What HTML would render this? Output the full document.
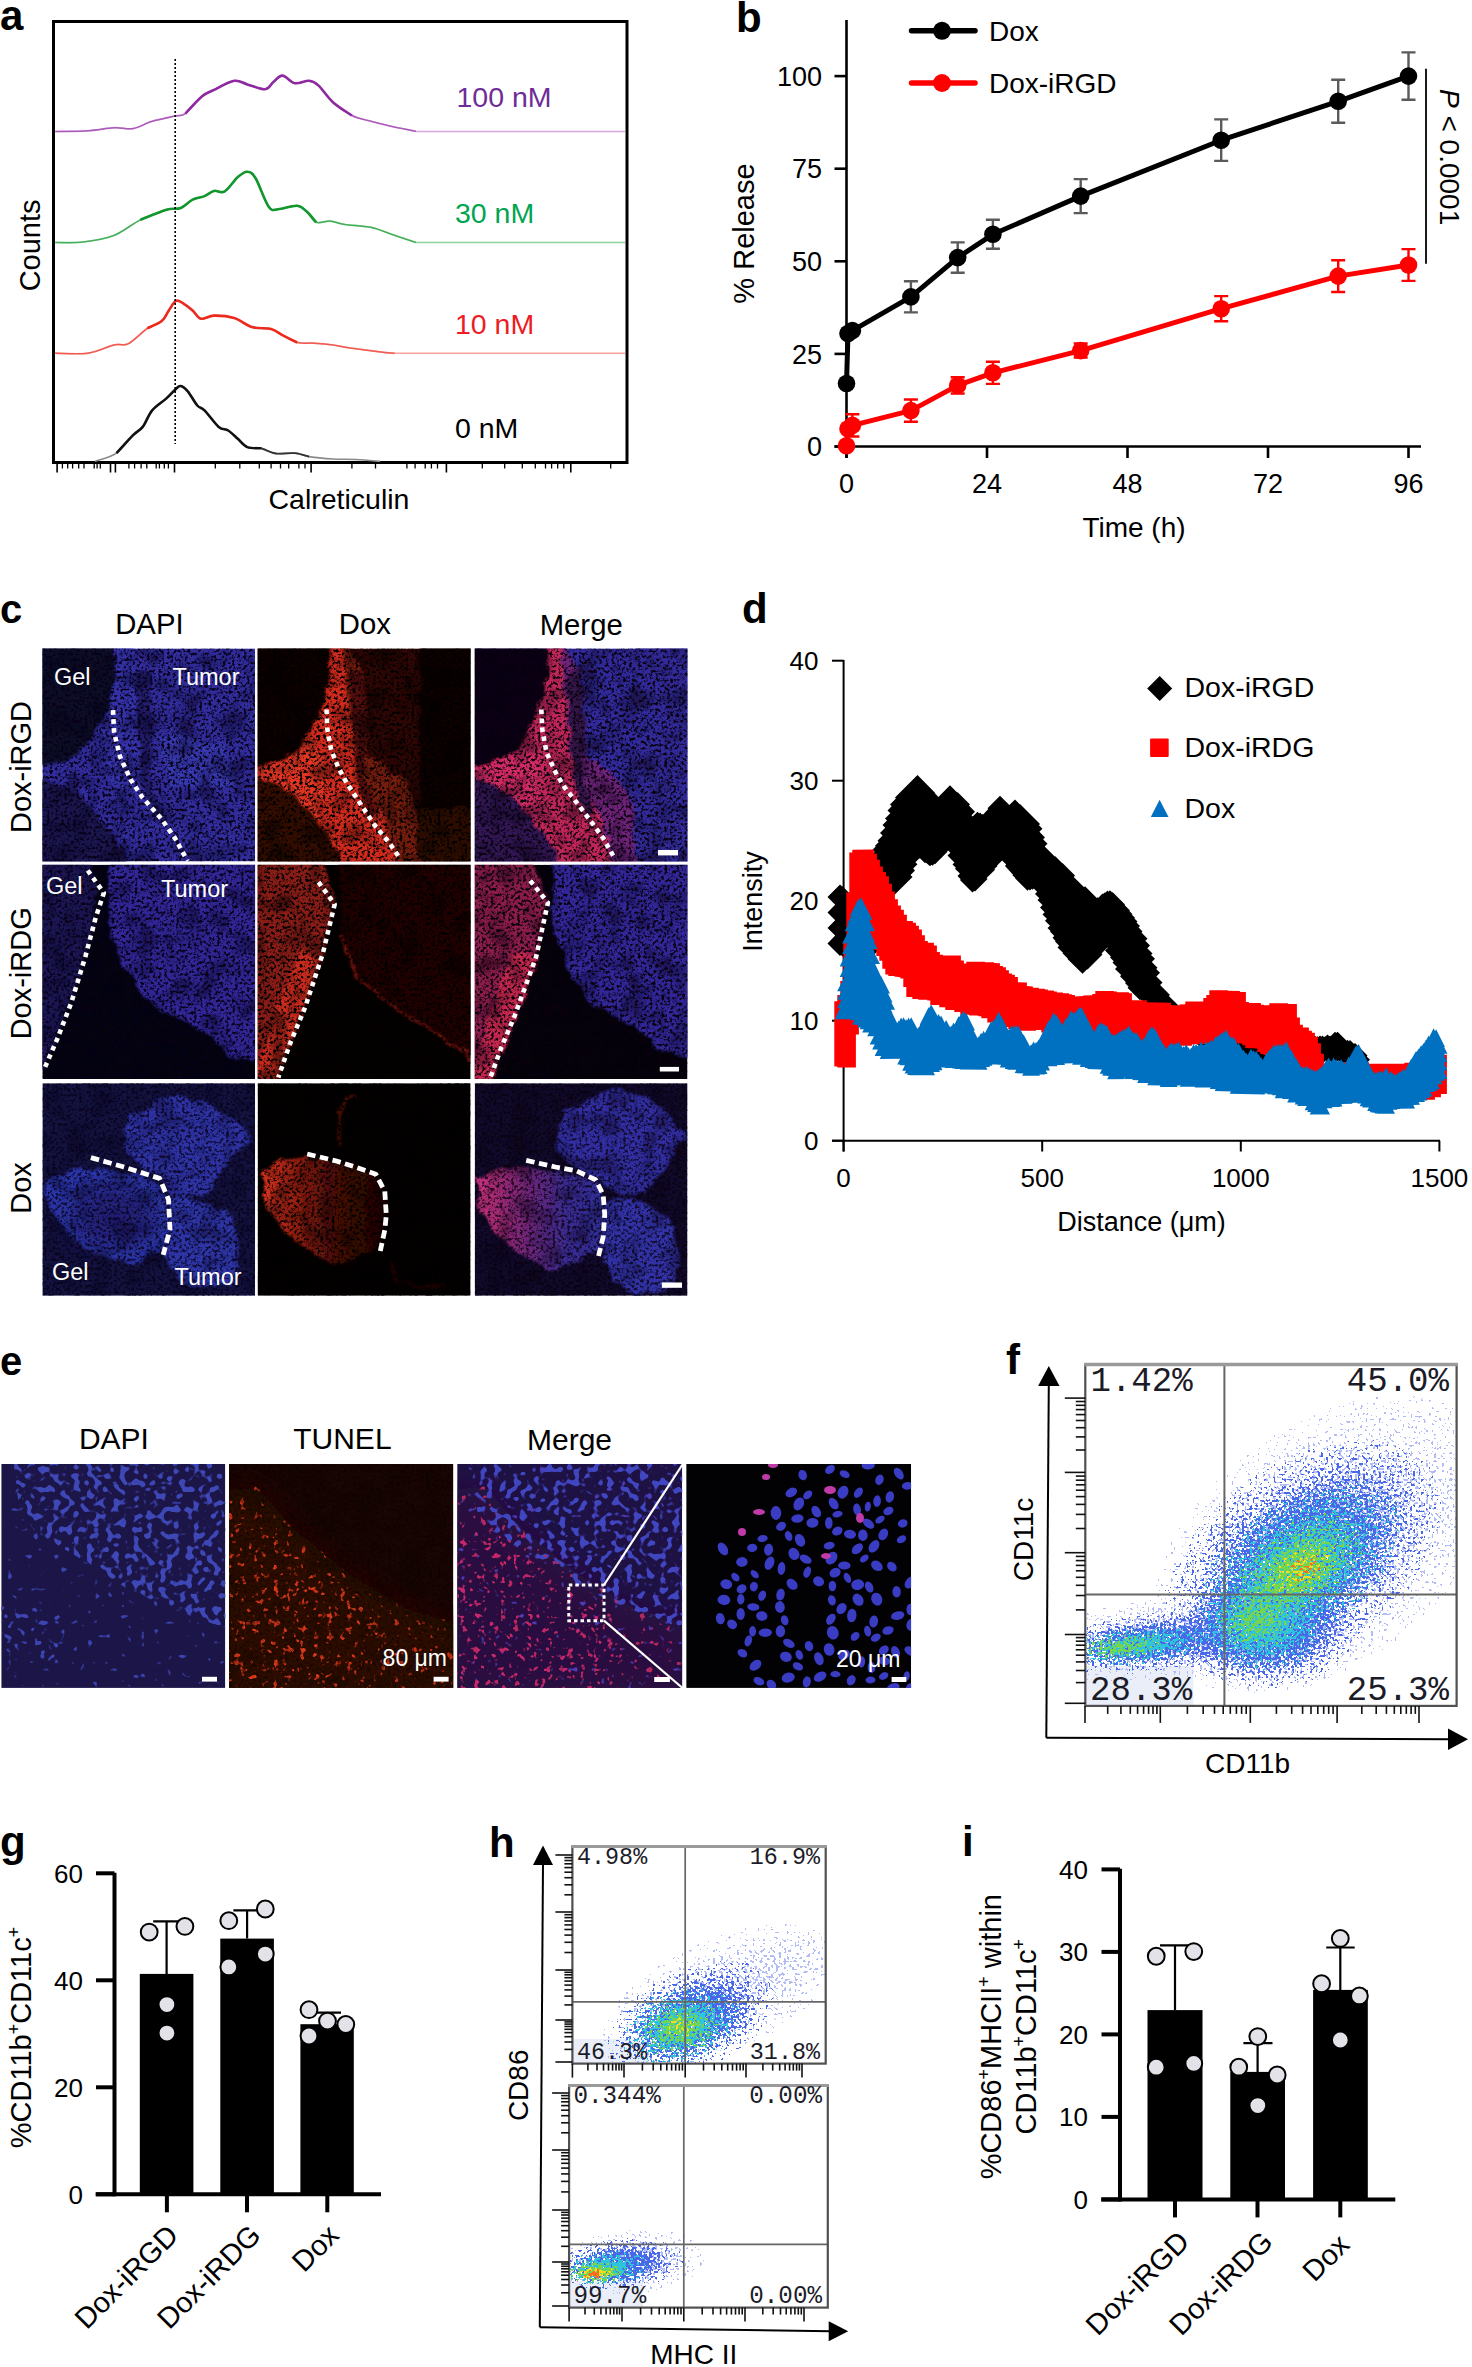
<!DOCTYPE html><html><head><meta charset="utf-8"><style>html,body{margin:0;padding:0;background:#fff;}svg{display:block;}text{font-family:"Liberation Sans",sans-serif;} text.mono{font-family:"Liberation Mono",monospace;}</style></head><body>
<svg width="1472" height="2367" viewBox="0 0 1472 2367">
<defs><radialGradient id="gJet"><stop offset="0" stop-color="#ff5a10"/><stop offset="0.10" stop-color="#ffc400"/><stop offset="0.22" stop-color="#8ad836"/><stop offset="0.38" stop-color="#28c8b8"/><stop offset="0.56" stop-color="#2a62ea"/><stop offset="0.78" stop-color="#5a78ee"/><stop offset="1" stop-color="#a4b0f4"/></radialGradient><radialGradient id="gCool"><stop offset="0" stop-color="#60d060"/><stop offset="0.25" stop-color="#30c8c0"/><stop offset="0.55" stop-color="#2a62ea"/><stop offset="0.8" stop-color="#5a78ee"/><stop offset="1" stop-color="#a4b0f4"/></radialGradient><radialGradient id="gBlue"><stop offset="0" stop-color="#3a64ea"/><stop offset="0.6" stop-color="#6a84f0"/><stop offset="1" stop-color="#a8b4f4"/></radialGradient><radialGradient id="dHi"><stop offset="0" stop-color="#fff" stop-opacity="1"/><stop offset="0.55" stop-color="#fff" stop-opacity="0.97"/><stop offset="0.8" stop-color="#fff" stop-opacity="0.6"/><stop offset="1" stop-color="#fff" stop-opacity="0"/></radialGradient><radialGradient id="dLo"><stop offset="0" stop-color="#fff" stop-opacity="0.7"/><stop offset="0.6" stop-color="#fff" stop-opacity="0.45"/><stop offset="1" stop-color="#fff" stop-opacity="0"/></radialGradient><filter id="spk" x="0" y="0" width="1472" height="2367" filterUnits="userSpaceOnUse"><feTurbulence type="fractalNoise" baseFrequency="0.42" numOctaves="1" seed="4" result="n"/><feColorMatrix in="n" type="matrix" values="0 0 0 0 1  0 0 0 0 1  0 0 0 0 1  1.6 0 0 0 -0.3" result="na"/><feComposite in="SourceGraphic" in2="na" operator="arithmetic" k1="1" k2="0" k3="0" k4="0" result="p"/><feComponentTransfer in="p"><feFuncA type="discrete" tableValues="0 0 1 1 1"/></feComponentTransfer></filter><radialGradient id="dG"><stop offset="0" stop-color="#fff" stop-opacity="1"/><stop offset="0.35" stop-color="#fff" stop-opacity="0.8"/><stop offset="0.7" stop-color="#fff" stop-opacity="0.35"/><stop offset="1" stop-color="#fff" stop-opacity="0.03"/></radialGradient><filter id="fs0" x="0" y="0" width="1472" height="2367" filterUnits="userSpaceOnUse"><feTurbulence type="fractalNoise" baseFrequency="0.38" numOctaves="1" seed="31" result="n"/><feColorMatrix in="n" type="matrix" values="0 0 0 0 1  0 0 0 0 1  0 0 0 0 1  1 0 0 0 0" result="na"/><feComposite in="SourceGraphic" in2="na" operator="arithmetic" k1="0" k2="0.4" k3="1" k4="-0.65" result="p"/><feComponentTransfer in="p" result="t1"><feFuncA type="discrete" tableValues="0 1 1 1 1 1 1 1 1 1 1 1 1 1 1 1 1 1 1 1"/></feComponentTransfer><feComposite in="t1" in2="SourceGraphic" operator="in" result="t2"/><feComponentTransfer in="t2"><feFuncA type="discrete" tableValues="0 1 1 1 1 1 1 1 1 1 1 1 1 1 1 1 1 1 1 1 1 1 1 1 1 1 1 1 1 1 1 1 1 1 1 1 1 1 1 1 1 1 1 1 1 1 1 1 1 1"/></feComponentTransfer></filter><filter id="fs1" x="0" y="0" width="1472" height="2367" filterUnits="userSpaceOnUse"><feTurbulence type="fractalNoise" baseFrequency="0.38" numOctaves="1" seed="38" result="n"/><feColorMatrix in="n" type="matrix" values="0 0 0 0 1  0 0 0 0 1  0 0 0 0 1  1 0 0 0 0" result="na"/><feComposite in="SourceGraphic" in2="na" operator="arithmetic" k1="0" k2="0.4" k3="1" k4="-0.65" result="p"/><feComponentTransfer in="p" result="t1"><feFuncA type="discrete" tableValues="0 1 1 1 1 1 1 1 1 1 1 1 1 1 1 1 1 1 1 1"/></feComponentTransfer><feComposite in="t1" in2="SourceGraphic" operator="in" result="t2"/><feComponentTransfer in="t2"><feFuncA type="discrete" tableValues="0 1 1 1 1 1 1 1 1 1 1 1 1 1 1 1 1 1 1 1 1 1 1 1 1 1 1 1 1 1 1 1 1 1 1 1 1 1 1 1 1 1 1 1 1 1 1 1 1 1"/></feComponentTransfer></filter><filter id="fs2" x="0" y="0" width="1472" height="2367" filterUnits="userSpaceOnUse"><feTurbulence type="fractalNoise" baseFrequency="0.38" numOctaves="1" seed="45" result="n"/><feColorMatrix in="n" type="matrix" values="0 0 0 0 1  0 0 0 0 1  0 0 0 0 1  1 0 0 0 0" result="na"/><feComposite in="SourceGraphic" in2="na" operator="arithmetic" k1="0" k2="0.4" k3="1" k4="-0.65" result="p"/><feComponentTransfer in="p" result="t1"><feFuncA type="discrete" tableValues="0 1 1 1 1 1 1 1 1 1 1 1 1 1 1 1 1 1 1 1"/></feComponentTransfer><feComposite in="t1" in2="SourceGraphic" operator="in" result="t2"/><feComponentTransfer in="t2"><feFuncA type="discrete" tableValues="0 1 1 1 1 1 1 1 1 1 1 1 1 1 1 1 1 1 1 1 1 1 1 1 1 1 1 1 1 1 1 1 1 1 1 1 1 1 1 1 1 1 1 1 1 1 1 1 1 1"/></feComponentTransfer></filter><filter id="fs3" x="0" y="0" width="1472" height="2367" filterUnits="userSpaceOnUse"><feTurbulence type="fractalNoise" baseFrequency="0.38" numOctaves="1" seed="52" result="n"/><feColorMatrix in="n" type="matrix" values="0 0 0 0 1  0 0 0 0 1  0 0 0 0 1  1 0 0 0 0" result="na"/><feComposite in="SourceGraphic" in2="na" operator="arithmetic" k1="0" k2="0.4" k3="1" k4="-0.65" result="p"/><feComponentTransfer in="p" result="t1"><feFuncA type="discrete" tableValues="0 1 1 1 1 1 1 1 1 1 1 1 1 1 1 1 1 1 1 1"/></feComponentTransfer><feComposite in="t1" in2="SourceGraphic" operator="in" result="t2"/><feComponentTransfer in="t2"><feFuncA type="discrete" tableValues="0 1 1 1 1 1 1 1 1 1 1 1 1 1 1 1 1 1 1 1 1 1 1 1 1 1 1 1 1 1 1 1 1 1 1 1 1 1 1 1 1 1 1 1 1 1 1 1 1 1"/></feComponentTransfer></filter><filter id="fs4" x="0" y="0" width="1472" height="2367" filterUnits="userSpaceOnUse"><feTurbulence type="fractalNoise" baseFrequency="0.38" numOctaves="1" seed="59" result="n"/><feColorMatrix in="n" type="matrix" values="0 0 0 0 1  0 0 0 0 1  0 0 0 0 1  1 0 0 0 0" result="na"/><feComposite in="SourceGraphic" in2="na" operator="arithmetic" k1="0" k2="0.4" k3="1" k4="-0.65" result="p"/><feComponentTransfer in="p" result="t1"><feFuncA type="discrete" tableValues="0 1 1 1 1 1 1 1 1 1 1 1 1 1 1 1 1 1 1 1"/></feComponentTransfer><feComposite in="t1" in2="SourceGraphic" operator="in" result="t2"/><feComponentTransfer in="t2"><feFuncA type="discrete" tableValues="0 1 1 1 1 1 1 1 1 1 1 1 1 1 1 1 1 1 1 1 1 1 1 1 1 1 1 1 1 1 1 1 1 1 1 1 1 1 1 1 1 1 1 1 1 1 1 1 1 1"/></feComponentTransfer></filter><filter id="fs5" x="0" y="0" width="1472" height="2367" filterUnits="userSpaceOnUse"><feTurbulence type="fractalNoise" baseFrequency="0.38" numOctaves="1" seed="66" result="n"/><feColorMatrix in="n" type="matrix" values="0 0 0 0 1  0 0 0 0 1  0 0 0 0 1  1 0 0 0 0" result="na"/><feComposite in="SourceGraphic" in2="na" operator="arithmetic" k1="0" k2="0.4" k3="1" k4="-0.65" result="p"/><feComponentTransfer in="p" result="t1"><feFuncA type="discrete" tableValues="0 1 1 1 1 1 1 1 1 1 1 1 1 1 1 1 1 1 1 1"/></feComponentTransfer><feComposite in="t1" in2="SourceGraphic" operator="in" result="t2"/><feComponentTransfer in="t2"><feFuncA type="discrete" tableValues="0 1 1 1 1 1 1 1 1 1 1 1 1 1 1 1 1 1 1 1 1 1 1 1 1 1 1 1 1 1 1 1 1 1 1 1 1 1 1 1 1 1 1 1 1 1 1 1 1 1"/></feComponentTransfer></filter><clipPath id="cf"><rect x="1085.3" y="1364.5" width="371.29999999999995" height="341.4000000000001"/></clipPath><mask id="pfm0" maskUnits="userSpaceOnUse" x="1085.3" y="1364.5" width="371.29999999999995" height="341.4000000000001"><g filter="url(#fs0)"><ellipse cx="1325" cy="1545" rx="195" ry="120" transform="rotate(-36 1325 1545)" fill="url(#dG)" fill-opacity="0.6"/><ellipse cx="1150" cy="1640" rx="120" ry="40" transform="rotate(-6 1150 1640)" fill="url(#dG)" fill-opacity="0.55"/><ellipse cx="1265" cy="1632" rx="95" ry="62" transform="rotate(0 1265 1632)" fill="url(#dG)" fill-opacity="0.55"/></g></mask><mask id="pfm1" maskUnits="userSpaceOnUse" x="1085.3" y="1364.5" width="371.29999999999995" height="341.4000000000001"><g filter="url(#fs1)"><ellipse cx="1302" cy="1560" rx="158" ry="96" transform="rotate(-36 1302 1560)" fill="url(#dG)" fill-opacity="0.95"/><ellipse cx="1150" cy="1643" rx="105" ry="30" transform="rotate(-6 1150 1643)" fill="url(#dG)" fill-opacity="0.9"/><ellipse cx="1268" cy="1630" rx="88" ry="58" transform="rotate(0 1268 1630)" fill="url(#dG)" fill-opacity="0.9"/></g></mask><mask id="pfm2" maskUnits="userSpaceOnUse" x="1085.3" y="1364.5" width="371.29999999999995" height="341.4000000000001"><g filter="url(#fs2)"><ellipse cx="1298" cy="1568" rx="118" ry="68" transform="rotate(-36 1298 1568)" fill="url(#dG)" fill-opacity="0.85"/><ellipse cx="1140" cy="1645" rx="80" ry="20" transform="rotate(-6 1140 1645)" fill="url(#dG)" fill-opacity="0.8"/><ellipse cx="1262" cy="1628" rx="66" ry="44" transform="rotate(0 1262 1628)" fill="url(#dG)" fill-opacity="0.8"/></g></mask><mask id="pfm3" maskUnits="userSpaceOnUse" x="1085.3" y="1364.5" width="371.29999999999995" height="341.4000000000001"><g filter="url(#fs3)"><ellipse cx="1298" cy="1570" rx="78" ry="44" transform="rotate(-36 1298 1570)" fill="url(#dG)" fill-opacity="0.75"/><ellipse cx="1122" cy="1647" rx="48" ry="13" transform="rotate(-6 1122 1647)" fill="url(#dG)" fill-opacity="0.65"/><ellipse cx="1255" cy="1622" rx="40" ry="28" transform="rotate(0 1255 1622)" fill="url(#dG)" fill-opacity="0.6"/></g></mask><mask id="pfm4" maskUnits="userSpaceOnUse" x="1085.3" y="1364.5" width="371.29999999999995" height="341.4000000000001"><g filter="url(#fs4)"><ellipse cx="1302" cy="1570" rx="40" ry="24" transform="rotate(-36 1302 1570)" fill="url(#dG)" fill-opacity="0.42"/></g></mask><mask id="pfm5" maskUnits="userSpaceOnUse" x="1085.3" y="1364.5" width="371.29999999999995" height="341.4000000000001"><g filter="url(#fs5)"><ellipse cx="1305" cy="1568" rx="22" ry="13" transform="rotate(-36 1305 1568)" fill="url(#dG)" fill-opacity="0.3"/></g></mask><clipPath id="ch1"><rect x="572.4" y="1846.6" width="253.30000000000007" height="217.0"/></clipPath><mask id="ph1m0" maskUnits="userSpaceOnUse" x="572.4" y="1846.6" width="253.30000000000007" height="217.0"><g filter="url(#fs0)"><ellipse cx="718" cy="1998" rx="130" ry="58" transform="rotate(-25 718 1998)" fill="url(#dG)" fill-opacity="0.42"/><ellipse cx="785" cy="1965" rx="55" ry="35" transform="rotate(-25 785 1965)" fill="url(#dG)" fill-opacity="0.15"/></g></mask><mask id="ph1m1" maskUnits="userSpaceOnUse" x="572.4" y="1846.6" width="253.30000000000007" height="217.0"><g filter="url(#fs1)"><ellipse cx="692" cy="2020" rx="90" ry="50" transform="rotate(-25 692 2020)" fill="url(#dG)" fill-opacity="0.95"/></g></mask><mask id="ph1m2" maskUnits="userSpaceOnUse" x="572.4" y="1846.6" width="253.30000000000007" height="217.0"><g filter="url(#fs2)"><ellipse cx="682" cy="2026" rx="64" ry="38" transform="rotate(-15 682 2026)" fill="url(#dG)" fill-opacity="0.85"/></g></mask><mask id="ph1m3" maskUnits="userSpaceOnUse" x="572.4" y="1846.6" width="253.30000000000007" height="217.0"><g filter="url(#fs3)"><ellipse cx="680" cy="2028" rx="42" ry="28" transform="rotate(-10 680 2028)" fill="url(#dG)" fill-opacity="0.7"/></g></mask><mask id="ph1m4" maskUnits="userSpaceOnUse" x="572.4" y="1846.6" width="253.30000000000007" height="217.0"><g filter="url(#fs4)"><ellipse cx="680" cy="2026" rx="18" ry="14" transform="rotate(0 680 2026)" fill="url(#dG)" fill-opacity="0.35"/></g></mask><clipPath id="ch2"><rect x="569.1" y="2085.5" width="258.69999999999993" height="222.0999999999999"/></clipPath><mask id="ph2m0" maskUnits="userSpaceOnUse" x="569.1" y="2085.5" width="258.69999999999993" height="222.0999999999999"><g filter="url(#fs0)"><ellipse cx="632" cy="2262" rx="78" ry="32" transform="rotate(-5 632 2262)" fill="url(#dG)" fill-opacity="0.55"/></g></mask><mask id="ph2m1" maskUnits="userSpaceOnUse" x="569.1" y="2085.5" width="258.69999999999993" height="222.0999999999999"><g filter="url(#fs1)"><ellipse cx="620" cy="2264" rx="64" ry="26" transform="rotate(-5 620 2264)" fill="url(#dG)" fill-opacity="1.0"/></g></mask><mask id="ph2m2" maskUnits="userSpaceOnUse" x="569.1" y="2085.5" width="258.69999999999993" height="222.0999999999999"><g filter="url(#fs2)"><ellipse cx="605" cy="2268" rx="46" ry="18" transform="rotate(-5 605 2268)" fill="url(#dG)" fill-opacity="0.95"/></g></mask><mask id="ph2m3" maskUnits="userSpaceOnUse" x="569.1" y="2085.5" width="258.69999999999993" height="222.0999999999999"><g filter="url(#fs3)"><ellipse cx="598" cy="2272" rx="32" ry="12" transform="rotate(-3 598 2272)" fill="url(#dG)" fill-opacity="0.85"/></g></mask><mask id="ph2m4" maskUnits="userSpaceOnUse" x="569.1" y="2085.5" width="258.69999999999993" height="222.0999999999999"><g filter="url(#fs4)"><ellipse cx="596" cy="2273" rx="20" ry="8" transform="rotate(0 596 2273)" fill="url(#dG)" fill-opacity="0.75"/></g></mask><mask id="ph2m5" maskUnits="userSpaceOnUse" x="569.1" y="2085.5" width="258.69999999999993" height="222.0999999999999"><g filter="url(#fs5)"><ellipse cx="594" cy="2274" rx="12" ry="6" transform="rotate(0 594 2274)" fill="url(#dG)" fill-opacity="0.7"/></g></mask><filter id="mblur" x="-5%" y="-5%" width="110%" height="110%"><feTurbulence type="fractalNoise" baseFrequency="0.07" numOctaves="3" seed="2" result="t"/><feDisplacementMap in="SourceGraphic" in2="t" scale="10" xChannelSelector="R" yChannelSelector="G" result="d"/><feGaussianBlur in="d" stdDeviation="1.1"/></filter><filter id="mblur3" x="-5%" y="-5%" width="110%" height="110%"><feGaussianBlur stdDeviation="4"/></filter><filter id="mblur12" x="-20%" y="-20%" width="140%" height="140%"><feGaussianBlur stdDeviation="14"/></filter><filter id="tex" x="0" y="0" width="1472" height="2367" filterUnits="userSpaceOnUse"><feTurbulence type="fractalNoise" baseFrequency="0.34" numOctaves="3" seed="11" result="n"/><feColorMatrix in="n" type="matrix" values="0 0 0 0 0  0 0 0 0 0  0 0 0 0 0  -4.5 0 0 0 2.35" result="m"/><feGaussianBlur in="m" stdDeviation="0.55" result="mb"/><feComposite in="SourceGraphic" in2="mb" operator="in"/></filter><filter id="texC" x="0" y="0" width="1472" height="2367" filterUnits="userSpaceOnUse"><feTurbulence type="fractalNoise" baseFrequency="0.045" numOctaves="3" seed="5" result="n"/><feColorMatrix in="n" type="matrix" values="0 0 0 0 0  0 0 0 0 0  0 0 0 0 0  -3.2 0 0 0 1.75" result="m"/><feComposite in="SourceGraphic" in2="m" operator="in"/></filter><filter id="texL" x="0" y="0" width="1472" height="2367" filterUnits="userSpaceOnUse"><feTurbulence type="fractalNoise" baseFrequency="0.3" numOctaves="2" seed="23"/><feColorMatrix type="matrix" values="0 0 0 0 1  0 0 0 0 1  0 0 0 0 1  5 0 0 0 -2.9"/></filter><filter id="nuc0" x="0" y="0" width="1472" height="2367" filterUnits="userSpaceOnUse"><feTurbulence type="fractalNoise" baseFrequency="0.15" numOctaves="1" seed="3" result="n"/><feColorMatrix in="n" type="matrix" values="0 0 0 0 1  0 0 0 0 1  0 0 0 0 1  14 0 0 0 -7.55" result="m"/><feGaussianBlur in="m" stdDeviation="0.7" result="mb"/><feComposite in="SourceGraphic" in2="mb" operator="in"/></filter><filter id="nuc1" x="0" y="0" width="1472" height="2367" filterUnits="userSpaceOnUse"><feTurbulence type="fractalNoise" baseFrequency="0.15" numOctaves="1" seed="5" result="n"/><feColorMatrix in="n" type="matrix" values="0 0 0 0 1  0 0 0 0 1  0 0 0 0 1  14 0 0 0 -8.5" result="m"/><feGaussianBlur in="m" stdDeviation="0.7" result="mb"/><feComposite in="SourceGraphic" in2="mb" operator="in"/></filter><filter id="nuc2" x="0" y="0" width="1472" height="2367" filterUnits="userSpaceOnUse"><feTurbulence type="fractalNoise" baseFrequency="0.15" numOctaves="1" seed="8" result="n"/><feColorMatrix in="n" type="matrix" values="0 0 0 0 1  0 0 0 0 1  0 0 0 0 1  14 0 0 0 -9.5" result="m"/><feGaussianBlur in="m" stdDeviation="0.7" result="mb"/><feComposite in="SourceGraphic" in2="mb" operator="in"/></filter><filter id="nuc3" x="0" y="0" width="1472" height="2367" filterUnits="userSpaceOnUse"><feTurbulence type="fractalNoise" baseFrequency="0.15" numOctaves="2" seed="13" result="n"/><feColorMatrix in="n" type="matrix" values="0 0 0 0 1  0 0 0 0 1  0 0 0 0 1  12 0 0 0 -7.75" result="m"/><feGaussianBlur in="m" stdDeviation="0.7" result="mb"/><feComposite in="SourceGraphic" in2="mb" operator="in"/></filter><filter id="nuc4" x="0" y="0" width="1472" height="2367" filterUnits="userSpaceOnUse"><feTurbulence type="fractalNoise" baseFrequency="0.15" numOctaves="2" seed="17" result="n"/><feColorMatrix in="n" type="matrix" values="0 0 0 0 1  0 0 0 0 1  0 0 0 0 1  12 0 0 0 -8.1" result="m"/><feGaussianBlur in="m" stdDeviation="0.7" result="mb"/><feComposite in="SourceGraphic" in2="mb" operator="in"/></filter><linearGradient id="gL3x" x1="0" y1="0" x2="1" y2="0"><stop offset="0" stop-color="#e0361f"/><stop offset="0.14" stop-color="#b42716"/><stop offset="0.35" stop-color="#80190c"/><stop offset="0.6" stop-color="#4a0c06"/><stop offset="1" stop-color="#1c0302"/></linearGradient><linearGradient id="gL3m" x1="0" y1="0" x2="1" y2="0"><stop offset="0" stop-color="#d23484"/><stop offset="0.15" stop-color="#a42a72"/><stop offset="0.4" stop-color="#6c2476"/><stop offset="0.7" stop-color="#3a2a8e"/><stop offset="1" stop-color="#2e2e98"/></linearGradient></defs>
<text x="0.0" y="30.0" font-size="42" text-anchor="start" fill="#000" font-weight="bold" >a</text>
<rect x="53.5" y="21.5" width="573.5" height="441" fill="none" stroke="#000" stroke-width="3"/>
<line x1="416" y1="131.4" x2="625" y2="131.4" stroke="#d8a4e2" stroke-width="1.5"/>
<path d="M55.2,131.5 C60.7,131.4 78.2,131.4 88.0,130.8 C97.8,130.2 106.6,128.1 114.1,127.7 C121.6,127.3 126.8,129.7 133.1,128.6 C139.4,127.5 145.2,123.4 152.2,121.3 C159.2,119.2 169.7,117.3 175.2,116.0 C180.7,114.7 180.9,116.9 185.4,113.6 C189.9,110.3 197.3,100.2 202.1,96.3 C206.9,92.3 208.7,92.5 214.0,89.9 C219.3,87.3 228.6,81.7 234.2,80.8 C239.8,79.9 242.2,83.0 247.3,84.4 C252.5,85.8 260.8,89.6 265.1,89.2 C269.5,88.8 270.5,84.3 273.4,82.0 C276.3,79.7 278.9,75.4 282.5,75.6 C286.1,75.8 290.4,82.3 294.8,83.2 C299.2,84.1 305.1,80.4 309.1,80.8 C313.1,81.2 314.6,82.0 318.6,85.6 C322.6,89.2 327.3,97.2 332.9,102.2 C338.4,107.2 345.6,112.3 351.9,115.5 C358.2,118.7 364.6,119.5 370.9,121.3 C377.2,123.0 382.4,124.3 389.9,126.0 C397.4,127.7 411.6,130.4 416.0,131.3" fill="none" stroke="#d8a4e2" stroke-width="1.7"/>
<path d="M55.2,131.5 C60.7,131.4 78.2,131.4 88.0,130.8 C97.8,130.2 106.6,128.1 114.1,127.7 C121.6,127.3 126.8,129.7 133.1,128.6 C139.4,127.5 145.2,123.4 152.2,121.3 C159.2,119.2 169.7,117.3 175.2,116.0 C180.7,114.7 180.9,116.9 185.4,113.6 C189.9,110.3 197.3,100.2 202.1,96.3 C206.9,92.3 208.7,92.5 214.0,89.9 C219.3,87.3 228.6,81.7 234.2,80.8 C239.8,79.9 242.2,83.0 247.3,84.4 C252.5,85.8 260.8,89.6 265.1,89.2 C269.5,88.8 270.5,84.3 273.4,82.0 C276.3,79.7 278.9,75.4 282.5,75.6 C286.1,75.8 290.4,82.3 294.8,83.2 C299.2,84.1 305.1,80.4 309.1,80.8 C313.1,81.2 314.6,82.0 318.6,85.6 C322.6,89.2 327.3,97.2 332.9,102.2 C338.4,107.2 345.6,112.3 351.9,115.5 C358.2,118.7 364.6,119.5 370.9,121.3 C377.2,123.0 382.4,124.3 389.9,126.0 C397.4,127.7 411.6,130.4 416.0,131.3" fill="none" stroke="#8e2aa0" stroke-width="1.5" stroke-opacity="0.6"/>
<path d="M185.4,113.6 C188.2,110.7 197.3,100.2 202.1,96.3 C206.9,92.3 208.7,92.5 214.0,89.9 C219.3,87.3 228.6,81.7 234.2,80.8 C239.8,79.9 242.2,83.0 247.3,84.4 C252.5,85.8 260.8,89.6 265.1,89.2 C269.5,88.8 270.5,84.3 273.4,82.0 C276.3,79.7 278.9,75.4 282.5,75.6 C286.1,75.8 290.4,82.3 294.8,83.2 C299.2,84.1 305.1,80.4 309.1,80.8 C313.1,81.2 314.6,82.0 318.6,85.6 C322.6,89.2 327.3,97.2 332.9,102.2 C338.4,107.2 348.7,113.3 351.9,115.5" fill="none" stroke="#8e2aa0" stroke-width="2.6"/>
<line x1="416" y1="242.5" x2="625" y2="242.5" stroke="#8fd49c" stroke-width="1.5"/>
<path d="M55.2,242.5 C59.9,242.4 73.4,243.2 83.2,242.0 C93.0,240.8 104.6,239.1 114.1,235.4 C123.6,231.7 131.6,224.2 140.3,219.9 C149.0,215.6 159.7,211.7 166.4,209.7 C173.1,207.7 176.3,209.7 180.7,208.0 C185.1,206.3 188.6,201.7 192.6,199.7 C196.6,197.7 200.9,197.6 204.5,196.1 C208.1,194.6 210.6,191.7 214.0,190.9 C217.4,190.1 220.7,193.7 224.7,191.4 C228.7,189.1 234.0,180.4 237.8,177.1 C241.6,173.8 244.3,171.5 247.3,171.7 C250.3,171.9 252.0,172.5 255.6,178.3 C259.2,184.2 264.9,201.7 268.7,206.8 C272.5,212.0 273.4,209.4 278.2,209.2 C282.9,209.0 292.4,205.3 297.2,205.7 C301.9,206.1 303.5,208.8 306.7,211.6 C309.9,214.4 312.3,220.7 316.2,222.3 C320.1,223.9 325.2,220.7 330.0,221.1 C334.8,221.5 338.2,223.5 345.0,224.5 C351.8,225.5 362.6,225.5 370.9,227.3 C379.2,229.1 387.2,232.9 394.7,235.4 C402.2,237.9 412.4,241.3 416.0,242.5" fill="none" stroke="#8fd49c" stroke-width="1.7"/>
<path d="M55.2,242.5 C59.9,242.4 73.4,243.2 83.2,242.0 C93.0,240.8 104.6,239.1 114.1,235.4 C123.6,231.7 131.6,224.2 140.3,219.9 C149.0,215.6 159.7,211.7 166.4,209.7 C173.1,207.7 176.3,209.7 180.7,208.0 C185.1,206.3 188.6,201.7 192.6,199.7 C196.6,197.7 200.9,197.6 204.5,196.1 C208.1,194.6 210.6,191.7 214.0,190.9 C217.4,190.1 220.7,193.7 224.7,191.4 C228.7,189.1 234.0,180.4 237.8,177.1 C241.6,173.8 244.3,171.5 247.3,171.7 C250.3,171.9 252.0,172.5 255.6,178.3 C259.2,184.2 264.9,201.7 268.7,206.8 C272.5,212.0 273.4,209.4 278.2,209.2 C282.9,209.0 292.4,205.3 297.2,205.7 C301.9,206.1 303.5,208.8 306.7,211.6 C309.9,214.4 312.3,220.7 316.2,222.3 C320.1,223.9 325.2,220.7 330.0,221.1 C334.8,221.5 338.2,223.5 345.0,224.5 C351.8,225.5 362.6,225.5 370.9,227.3 C379.2,229.1 387.2,232.9 394.7,235.4 C402.2,237.9 412.4,241.3 416.0,242.5" fill="none" stroke="#12962e" stroke-width="1.5" stroke-opacity="0.6"/>
<path d="M140.3,219.9 C144.7,218.2 159.7,211.7 166.4,209.7 C173.1,207.7 176.3,209.7 180.7,208.0 C185.1,206.3 188.6,201.7 192.6,199.7 C196.6,197.7 200.9,197.6 204.5,196.1 C208.1,194.6 210.6,191.7 214.0,190.9 C217.4,190.1 220.7,193.7 224.7,191.4 C228.7,189.1 234.0,180.4 237.8,177.1 C241.6,173.8 244.3,171.5 247.3,171.7 C250.3,171.9 252.0,172.5 255.6,178.3 C259.2,184.2 264.9,201.7 268.7,206.8 C272.5,212.0 273.4,209.4 278.2,209.2 C282.9,209.0 292.4,205.3 297.2,205.7 C301.9,206.1 303.5,208.8 306.7,211.6 C309.9,214.4 314.6,220.5 316.2,222.3" fill="none" stroke="#12962e" stroke-width="2.6"/>
<line x1="394.7" y1="353.2" x2="625" y2="353.2" stroke="#f6a49c" stroke-width="1.5"/>
<path d="M55.2,353.2 C60.7,353.2 78.2,354.6 88.0,353.2 C97.8,351.8 107.4,346.5 114.1,344.9 C120.8,343.3 122.9,346.5 128.4,343.7 C134.0,340.9 141.9,332.1 147.4,328.3 C152.9,324.5 158.1,324.1 161.7,321.1 C165.3,318.1 166.4,313.8 168.8,310.4 C171.2,307.0 173.5,302.1 175.9,300.9 C178.3,299.7 180.3,301.7 183.1,303.3 C185.9,304.9 189.6,307.8 192.6,310.4 C195.6,313.0 197.3,317.8 200.9,318.7 C204.5,319.6 208.4,315.7 214.0,315.6 C219.6,315.5 227.9,316.1 234.2,318.0 C240.5,319.9 245.9,325.3 252.0,327.1 C258.1,328.9 265.9,327.6 271.0,329.0 C276.1,330.4 278.5,333.1 282.9,335.4 C287.3,337.6 292.0,341.2 297.2,342.5 C302.4,343.8 307.9,342.8 313.8,343.2 C319.8,343.6 326.9,344.2 332.9,345.0 C338.9,345.8 342.1,346.9 350.0,348.0 C357.9,349.1 372.9,351.0 380.4,351.9 C387.8,352.8 392.3,353.1 394.7,353.3" fill="none" stroke="#f6a49c" stroke-width="1.7"/>
<path d="M55.2,353.2 C60.7,353.2 78.2,354.6 88.0,353.2 C97.8,351.8 107.4,346.5 114.1,344.9 C120.8,343.3 122.9,346.5 128.4,343.7 C134.0,340.9 141.9,332.1 147.4,328.3 C152.9,324.5 158.1,324.1 161.7,321.1 C165.3,318.1 166.4,313.8 168.8,310.4 C171.2,307.0 173.5,302.1 175.9,300.9 C178.3,299.7 180.3,301.7 183.1,303.3 C185.9,304.9 189.6,307.8 192.6,310.4 C195.6,313.0 197.3,317.8 200.9,318.7 C204.5,319.6 208.4,315.7 214.0,315.6 C219.6,315.5 227.9,316.1 234.2,318.0 C240.5,319.9 245.9,325.3 252.0,327.1 C258.1,328.9 265.9,327.6 271.0,329.0 C276.1,330.4 278.5,333.1 282.9,335.4 C287.3,337.6 292.0,341.2 297.2,342.5 C302.4,343.8 307.9,342.8 313.8,343.2 C319.8,343.6 326.9,344.2 332.9,345.0 C338.9,345.8 342.1,346.9 350.0,348.0 C357.9,349.1 372.9,351.0 380.4,351.9 C387.8,352.8 392.3,353.1 394.7,353.3" fill="none" stroke="#ec2a1e" stroke-width="1.5" stroke-opacity="0.6"/>
<path d="M147.4,328.3 C149.8,327.1 158.1,324.1 161.7,321.1 C165.3,318.1 166.4,313.8 168.8,310.4 C171.2,307.0 173.5,302.1 175.9,300.9 C178.3,299.7 180.3,301.7 183.1,303.3 C185.9,304.9 189.6,307.8 192.6,310.4 C195.6,313.0 197.3,317.8 200.9,318.7 C204.5,319.6 208.4,315.7 214.0,315.6 C219.6,315.5 227.9,316.1 234.2,318.0 C240.5,319.9 245.9,325.3 252.0,327.1 C258.1,328.9 265.9,327.6 271.0,329.0 C276.1,330.4 278.5,333.1 282.9,335.4 C287.3,337.6 294.8,341.3 297.2,342.5" fill="none" stroke="#ec2a1e" stroke-width="2.6"/>
<path d="M95.1,461.4 C98.7,460.0 110.2,457.5 116.5,453.1 C122.8,448.7 128.7,439.6 133.1,435.2 C137.5,430.8 139.5,431.0 142.7,426.9 C145.9,422.8 148.2,415.1 152.2,410.3 C156.1,405.6 162.4,402.0 166.4,398.4 C170.4,394.8 173.5,391.0 175.9,388.9 C178.3,386.8 178.7,385.6 180.7,386.0 C182.7,386.4 185.0,388.1 187.8,391.3 C190.6,394.6 194.5,402.3 197.3,405.5 C200.1,408.7 200.9,406.7 204.5,410.3 C208.1,413.9 214.8,423.5 218.7,426.9 C222.6,430.3 225.0,428.5 228.2,430.5 C231.4,432.5 234.6,436.0 237.8,438.8 C241.0,441.6 243.4,445.5 247.3,447.1 C251.2,448.7 256.8,447.2 261.5,448.3 C266.2,449.4 270.2,452.7 275.8,453.5 C281.4,454.3 289.2,452.6 294.8,453.1 C300.4,453.6 302.8,455.6 309.1,456.6 C315.5,457.6 325.0,458.5 332.9,459.0 C340.8,459.5 348.8,459.1 356.6,459.5 C364.5,459.9 376.1,461.0 380.0,461.3" fill="none" stroke="#8a8a8a" stroke-width="1.6"/>
<path d="M116.5,453.1 C119.3,450.1 128.7,439.6 133.1,435.2 C137.5,430.8 139.5,431.0 142.7,426.9 C145.9,422.8 148.2,415.1 152.2,410.3 C156.1,405.6 162.4,402.0 166.4,398.4 C170.4,394.8 173.5,391.0 175.9,388.9 C178.3,386.8 178.7,385.6 180.7,386.0 C182.7,386.4 185.0,388.1 187.8,391.3 C190.6,394.6 194.5,402.3 197.3,405.5 C200.1,408.7 200.9,406.7 204.5,410.3 C208.1,413.9 214.8,423.5 218.7,426.9 C222.6,430.3 225.0,428.5 228.2,430.5 C231.4,432.5 234.6,436.0 237.8,438.8 C241.0,441.6 243.4,445.5 247.3,447.1 C251.2,448.7 259.1,448.1 261.5,448.3" fill="none" stroke="#111" stroke-width="2.6"/>
<path d="M261.5,448.3 C263.9,449.2 270.2,452.7 275.8,453.5 C281.4,454.3 289.2,452.6 294.8,453.1 C300.4,453.6 306.7,456.0 309.1,456.6" fill="none" stroke="#333" stroke-width="1.8"/>
<line x1="175.2" y1="59" x2="175.2" y2="444" stroke="#000" stroke-width="1.6" stroke-dasharray="2,2"/>
<line x1="57.1" y1="462" x2="57.1" y2="472.5" stroke="#000" stroke-width="1.6"/>
<line x1="110.5" y1="462" x2="110.5" y2="472.5" stroke="#000" stroke-width="1.6"/>
<line x1="115.4" y1="462" x2="115.4" y2="472.5" stroke="#000" stroke-width="1.6"/>
<line x1="174.5" y1="462" x2="174.5" y2="472.5" stroke="#000" stroke-width="1.6"/>
<line x1="311.1" y1="462" x2="311.1" y2="472.5" stroke="#000" stroke-width="1.6"/>
<line x1="446.4" y1="462" x2="446.4" y2="472.5" stroke="#000" stroke-width="1.6"/>
<line x1="570.8" y1="462" x2="570.8" y2="472.5" stroke="#000" stroke-width="1.6"/>
<line x1="62.4" y1="462" x2="62.4" y2="468.5" stroke="#000" stroke-width="1.3"/>
<line x1="67.7" y1="462" x2="67.7" y2="468.5" stroke="#000" stroke-width="1.3"/>
<line x1="72.6" y1="462" x2="72.6" y2="468.5" stroke="#000" stroke-width="1.3"/>
<line x1="78.7" y1="462" x2="78.7" y2="468.5" stroke="#000" stroke-width="1.3"/>
<line x1="84.0" y1="462" x2="84.0" y2="468.5" stroke="#000" stroke-width="1.3"/>
<line x1="94.2" y1="462" x2="94.2" y2="468.5" stroke="#000" stroke-width="1.3"/>
<line x1="97.1" y1="462" x2="97.1" y2="468.5" stroke="#000" stroke-width="1.3"/>
<line x1="100.3" y1="462" x2="100.3" y2="468.5" stroke="#000" stroke-width="1.3"/>
<line x1="128.9" y1="462" x2="128.9" y2="468.5" stroke="#000" stroke-width="1.3"/>
<line x1="134.6" y1="462" x2="134.6" y2="468.5" stroke="#000" stroke-width="1.3"/>
<line x1="141.1" y1="462" x2="141.1" y2="468.5" stroke="#000" stroke-width="1.3"/>
<line x1="146.8" y1="462" x2="146.8" y2="468.5" stroke="#000" stroke-width="1.3"/>
<line x1="156.2" y1="462" x2="156.2" y2="468.5" stroke="#000" stroke-width="1.3"/>
<line x1="159.4" y1="462" x2="159.4" y2="468.5" stroke="#000" stroke-width="1.3"/>
<line x1="164.3" y1="462" x2="164.3" y2="468.5" stroke="#000" stroke-width="1.3"/>
<line x1="168.4" y1="462" x2="168.4" y2="468.5" stroke="#000" stroke-width="1.3"/>
<line x1="215.3" y1="462" x2="215.3" y2="468.5" stroke="#000" stroke-width="1.3"/>
<line x1="239.8" y1="462" x2="239.8" y2="468.5" stroke="#000" stroke-width="1.3"/>
<line x1="259.3" y1="462" x2="259.3" y2="468.5" stroke="#000" stroke-width="1.3"/>
<line x1="271.1" y1="462" x2="271.1" y2="468.5" stroke="#000" stroke-width="1.3"/>
<line x1="280.5" y1="462" x2="280.5" y2="468.5" stroke="#000" stroke-width="1.3"/>
<line x1="288.7" y1="462" x2="288.7" y2="468.5" stroke="#000" stroke-width="1.3"/>
<line x1="298.9" y1="462" x2="298.9" y2="468.5" stroke="#000" stroke-width="1.3"/>
<line x1="305.0" y1="462" x2="305.0" y2="468.5" stroke="#000" stroke-width="1.3"/>
<line x1="351.9" y1="462" x2="351.9" y2="468.5" stroke="#000" stroke-width="1.3"/>
<line x1="375.5" y1="462" x2="375.5" y2="468.5" stroke="#000" stroke-width="1.3"/>
<line x1="406.9" y1="462" x2="406.9" y2="468.5" stroke="#000" stroke-width="1.3"/>
<line x1="415.1" y1="462" x2="415.1" y2="468.5" stroke="#000" stroke-width="1.3"/>
<line x1="425.2" y1="462" x2="425.2" y2="468.5" stroke="#000" stroke-width="1.3"/>
<line x1="431.4" y1="462" x2="431.4" y2="468.5" stroke="#000" stroke-width="1.3"/>
<line x1="437.5" y1="462" x2="437.5" y2="468.5" stroke="#000" stroke-width="1.3"/>
<line x1="482.3" y1="462" x2="482.3" y2="468.5" stroke="#000" stroke-width="1.3"/>
<line x1="504.7" y1="462" x2="504.7" y2="468.5" stroke="#000" stroke-width="1.3"/>
<line x1="522.3" y1="462" x2="522.3" y2="468.5" stroke="#000" stroke-width="1.3"/>
<line x1="535.3" y1="462" x2="535.3" y2="468.5" stroke="#000" stroke-width="1.3"/>
<line x1="545.5" y1="462" x2="545.5" y2="468.5" stroke="#000" stroke-width="1.3"/>
<line x1="551.6" y1="462" x2="551.6" y2="468.5" stroke="#000" stroke-width="1.3"/>
<line x1="557.7" y1="462" x2="557.7" y2="468.5" stroke="#000" stroke-width="1.3"/>
<line x1="563.8" y1="462" x2="563.8" y2="468.5" stroke="#000" stroke-width="1.3"/>
<line x1="610.7" y1="462" x2="610.7" y2="468.5" stroke="#000" stroke-width="1.3"/>
<text x="339.0" y="508.5" font-size="28.5" text-anchor="middle" fill="#000" >Calreticulin</text>
<text x="0" y="0" font-size="29" text-anchor="middle" transform="translate(39.5,245.4) rotate(-90)">Counts</text>
<text x="456.5" y="107.0" font-size="28.5" text-anchor="start" fill="#6f2c98" >100 nM</text>
<text x="455.0" y="222.5" font-size="28.5" text-anchor="start" fill="#00a551" >30 nM</text>
<text x="455.0" y="333.5" font-size="28.5" text-anchor="start" fill="#ed1c24" >10 nM</text>
<text x="455.0" y="438.0" font-size="28.5" text-anchor="start" fill="#000" >0 nM</text>
<text x="736.0" y="31.5" font-size="42" text-anchor="start" fill="#000" font-weight="bold" >b</text>
<line x1="846.5" y1="20" x2="846.5" y2="458" stroke="#000" stroke-width="2.6"/>
<line x1="834.5" y1="446.5" x2="1421" y2="446.5" stroke="#000" stroke-width="2.6"/>
<line x1="834.5" y1="446.5" x2="846.5" y2="446.5" stroke="#000" stroke-width="2.6"/>
<text x="822.0" y="456.1" font-size="27" text-anchor="end" fill="#000" >0</text>
<line x1="834.5" y1="353.9" x2="846.5" y2="353.9" stroke="#000" stroke-width="2.6"/>
<text x="822.0" y="363.5" font-size="27" text-anchor="end" fill="#000" >25</text>
<line x1="834.5" y1="261.3" x2="846.5" y2="261.3" stroke="#000" stroke-width="2.6"/>
<text x="822.0" y="270.9" font-size="27" text-anchor="end" fill="#000" >50</text>
<line x1="834.5" y1="168.7" x2="846.5" y2="168.7" stroke="#000" stroke-width="2.6"/>
<text x="822.0" y="178.3" font-size="27" text-anchor="end" fill="#000" >75</text>
<line x1="834.5" y1="76.1" x2="846.5" y2="76.1" stroke="#000" stroke-width="2.6"/>
<text x="822.0" y="85.7" font-size="27" text-anchor="end" fill="#000" >100</text>
<line x1="846.5" y1="446.5" x2="846.5" y2="458" stroke="#000" stroke-width="2.6"/>
<text x="846.5" y="492.8" font-size="27" text-anchor="middle" fill="#000" >0</text>
<line x1="987.0" y1="446.5" x2="987.0" y2="458" stroke="#000" stroke-width="2.6"/>
<text x="987.0" y="492.8" font-size="27" text-anchor="middle" fill="#000" >24</text>
<line x1="1127.5" y1="446.5" x2="1127.5" y2="458" stroke="#000" stroke-width="2.6"/>
<text x="1127.5" y="492.8" font-size="27" text-anchor="middle" fill="#000" >48</text>
<line x1="1268.0" y1="446.5" x2="1268.0" y2="458" stroke="#000" stroke-width="2.6"/>
<text x="1268.0" y="492.8" font-size="27" text-anchor="middle" fill="#000" >72</text>
<line x1="1408.5" y1="446.5" x2="1408.5" y2="458" stroke="#000" stroke-width="2.6"/>
<text x="1408.5" y="492.8" font-size="27" text-anchor="middle" fill="#000" >96</text>
<text x="1134.0" y="536.7" font-size="28" text-anchor="middle" fill="#000" >Time (h)</text>
<text x="0" y="0" font-size="29" text-anchor="middle" transform="translate(753.5,233.5) rotate(-90)">% Release</text>
<path d="M910.9,281.3V312.4M903.9,281.3h14M903.9,312.4h14" stroke="#5a5a5a" stroke-width="2.4" fill="none"/>
<path d="M957.7,242.4V272.8M950.7,242.4h14M950.7,272.8h14" stroke="#5a5a5a" stroke-width="2.4" fill="none"/>
<path d="M992.9,219.8V248.7M985.9,219.8h14M985.9,248.7h14" stroke="#5a5a5a" stroke-width="2.4" fill="none"/>
<path d="M1080.7,179.1V213.1M1073.7,179.1h14M1073.7,213.1h14" stroke="#5a5a5a" stroke-width="2.4" fill="none"/>
<path d="M1221.2,119.4V160.9M1214.2,119.4h14M1214.2,160.9h14" stroke="#5a5a5a" stroke-width="2.4" fill="none"/>
<path d="M1338.2,79.8V122.8M1331.2,79.8h14M1331.2,122.8h14" stroke="#5a5a5a" stroke-width="2.4" fill="none"/>
<path d="M1408.5,52.4V99.8M1401.5,52.4h14M1401.5,99.8h14" stroke="#5a5a5a" stroke-width="2.4" fill="none"/>
<path d="M846.5,383.5 L848.0,333.5 L852.4,330.6 L910.9,296.9 L957.7,257.6 L992.9,234.3 L1080.7,196.1 L1221.2,140.2 L1338.2,101.3 L1408.5,76.1" stroke="#000" stroke-width="5" fill="none" stroke-linejoin="round"/>
<circle cx="846.5" cy="383.5" r="8.8" fill="#000"/>
<circle cx="848.0" cy="333.5" r="8.8" fill="#000"/>
<circle cx="852.4" cy="330.6" r="8.8" fill="#000"/>
<circle cx="910.9" cy="296.9" r="8.8" fill="#000"/>
<circle cx="957.7" cy="257.6" r="8.8" fill="#000"/>
<circle cx="992.9" cy="234.3" r="8.8" fill="#000"/>
<circle cx="1080.7" cy="196.1" r="8.8" fill="#000"/>
<circle cx="1221.2" cy="140.2" r="8.8" fill="#000"/>
<circle cx="1338.2" cy="101.3" r="8.8" fill="#000"/>
<circle cx="1408.5" cy="76.1" r="8.8" fill="#000"/>
<path d="M852.4,414.3V436.5M845.4,414.3h14M845.4,436.5h14" stroke="#ff0000" stroke-width="2.4" fill="none"/>
<path d="M910.9,399.5V421.7M903.9,399.5h14M903.9,421.7h14" stroke="#ff0000" stroke-width="2.4" fill="none"/>
<path d="M957.7,377.2V393.5M950.7,377.2h14M950.7,393.5h14" stroke="#ff0000" stroke-width="2.4" fill="none"/>
<path d="M992.9,361.7V383.9M985.9,361.7h14M985.9,383.9h14" stroke="#ff0000" stroke-width="2.4" fill="none"/>
<path d="M1080.7,343.5V357.6M1073.7,343.5h14M1073.7,357.6h14" stroke="#ff0000" stroke-width="2.4" fill="none"/>
<path d="M1221.2,296.1V321.3M1214.2,296.1h14M1214.2,321.3h14" stroke="#ff0000" stroke-width="2.4" fill="none"/>
<path d="M1338.2,260.2V292.0M1331.2,260.2h14M1331.2,292.0h14" stroke="#ff0000" stroke-width="2.4" fill="none"/>
<path d="M1408.5,249.1V280.9M1401.5,249.1h14M1401.5,280.9h14" stroke="#ff0000" stroke-width="2.4" fill="none"/>
<path d="M846.5,445.8 L848.0,428.7 L852.4,425.4 L910.9,410.6 L957.7,385.4 L992.9,372.8 L1080.7,350.6 L1221.2,308.7 L1338.2,276.1 L1408.5,265.0" stroke="#ff0000" stroke-width="5" fill="none" stroke-linejoin="round"/>
<circle cx="846.5" cy="445.8" r="8.8" fill="#ff0000"/>
<circle cx="848.0" cy="428.7" r="8.8" fill="#ff0000"/>
<circle cx="852.4" cy="425.4" r="8.8" fill="#ff0000"/>
<circle cx="910.9" cy="410.6" r="8.8" fill="#ff0000"/>
<circle cx="957.7" cy="385.4" r="8.8" fill="#ff0000"/>
<circle cx="992.9" cy="372.8" r="8.8" fill="#ff0000"/>
<circle cx="1080.7" cy="350.6" r="8.8" fill="#ff0000"/>
<circle cx="1221.2" cy="308.7" r="8.8" fill="#ff0000"/>
<circle cx="1338.2" cy="276.1" r="8.8" fill="#ff0000"/>
<circle cx="1408.5" cy="265.0" r="8.8" fill="#ff0000"/>
<line x1="911.5" y1="30.8" x2="975" y2="30.8" stroke="#000" stroke-width="5.5" stroke-linecap="round"/>
<circle cx="942" cy="30.8" r="9" fill="#000"/>
<text x="989.0" y="41.0" font-size="28" text-anchor="start" fill="#000" >Dox</text>
<line x1="911.5" y1="83" x2="975" y2="83" stroke="#ff0000" stroke-width="5.5" stroke-linecap="round"/>
<circle cx="942" cy="83" r="9" fill="#ff0000"/>
<text x="989.0" y="93.2" font-size="28" text-anchor="start" fill="#000" >Dox-iRGD</text>
<line x1="1426" y1="68.8" x2="1426" y2="263.8" stroke="#000" stroke-width="1.8"/>
<text x="0" y="0" font-size="28" transform="translate(1440,89) rotate(90)"><tspan font-style="italic">P</tspan> &lt; 0.0001</text>
<text x="742.0" y="623.0" font-size="42" text-anchor="start" fill="#000" font-weight="bold" >d</text>
<line x1="843.6" y1="660" x2="843.6" y2="1151.5" stroke="#000" stroke-width="2"/>
<line x1="832" y1="1140.7" x2="1440" y2="1140.7" stroke="#000" stroke-width="2"/>
<line x1="832" y1="1140.7" x2="843.6" y2="1140.7" stroke="#000" stroke-width="2"/>
<text x="818.5" y="1149.9" font-size="26" text-anchor="end" fill="#000" >0</text>
<line x1="832" y1="1020.7" x2="843.6" y2="1020.7" stroke="#000" stroke-width="2"/>
<text x="818.5" y="1029.9" font-size="26" text-anchor="end" fill="#000" >10</text>
<line x1="832" y1="900.7" x2="843.6" y2="900.7" stroke="#000" stroke-width="2"/>
<text x="818.5" y="909.9" font-size="26" text-anchor="end" fill="#000" >20</text>
<line x1="832" y1="780.7" x2="843.6" y2="780.7" stroke="#000" stroke-width="2"/>
<text x="818.5" y="789.9" font-size="26" text-anchor="end" fill="#000" >30</text>
<line x1="832" y1="660.7" x2="843.6" y2="660.7" stroke="#000" stroke-width="2"/>
<text x="818.5" y="669.9" font-size="26" text-anchor="end" fill="#000" >40</text>
<path d="M875.0,845.7L875.7,846.4L872.5,849.7L874.7,851.9L870.0,856.6L871.2,857.8L867.5,861.4L872.1,866.0L870.0,868.1L870.8,868.9L867.5,872.2L872.5,877.1L867.5,882.9L872.2,887.5L865.0,894.7L869.5,899.2L865.0,903.7L869.5,908.1L865.0,912.6L877.5,925.1L890.0,912.6L885.5,908.1L890.0,903.7L887.8,901.4L912.5,876.9L910.5,874.9L915.0,870.4L913.2,868.6L917.5,864.3L915.4,862.2L919.4,858.2L920.0,858.7L920.3,858.5L925.0,863.2L925.8,862.4L930.0,866.2L931.5,864.7L932.5,865.7L934.4,863.7L935.0,864.3L947.5,851.8L947.1,851.4L948.1,850.4L950.4,852.7L947.5,855.6L954.4,862.6L952.5,864.5L955.9,867.8L955.0,868.7L959.9,873.6L957.5,876.1L960.7,879.2L960.0,879.9L972.5,892.4L974.3,890.7L975.0,891.4L987.5,878.9L986.6,878.0L995.0,869.7L994.4,869.1L997.5,866.0L997.1,865.6L1002.1,860.5L1006.2,864.6L1005.0,865.9L1013.0,874.7L1012.5,875.2L1015.3,877.9L1015.0,878.2L1027.5,890.7L1028.9,889.3L1030.0,890.5L1031.7,888.8L1032.5,889.7L1033.8,888.4L1037.1,891.8L1035.0,893.9L1039.4,898.3L1037.5,900.1L1042.5,905.1L1040.0,907.6L1044.7,912.3L1042.5,914.4L1046.9,918.8L1045.0,920.7L1050.0,925.7L1047.5,928.1L1050.5,931.1L1050.0,931.6L1054.3,935.9L1052.5,937.8L1055.6,940.9L1055.0,941.5L1059.2,945.7L1057.5,947.4L1063.0,952.8L1062.5,953.3L1067.8,958.6L1067.5,959.0L1082.5,973.8L1087.1,969.2L1087.5,969.6L1102.5,954.6L1101.5,953.6L1107.4,947.6L1107.7,947.9L1105.0,950.6L1110.9,956.5L1110.0,957.4L1113.8,961.2L1112.5,962.5L1117.0,967.0L1115.0,969.0L1121.2,975.1L1120.0,976.3L1125.9,982.2L1125.0,983.0L1128.6,986.7L1127.5,987.8L1140.0,1000.3L1140.7,999.6L1142.5,1001.3L1142.7,1001.1L1152.5,1010.8L1153.6,1009.6L1162.5,1018.4L1163.6,1017.3L1182.5,1035.5L1183.3,1034.7L1187.5,1038.9L1187.9,1038.5L1190.0,1040.5L1190.9,1039.7L1195.0,1043.8L1195.7,1043.1L1197.5,1044.8L1197.9,1044.4L1200.0,1046.5L1200.9,1045.6L1202.5,1047.2L1202.9,1046.8L1205.0,1049.0L1205.7,1048.2L1207.5,1050.0L1208.1,1049.4L1210.0,1051.3L1210.6,1050.8L1215.0,1055.0L1216.1,1053.9L1220.0,1057.9L1220.5,1057.4L1222.5,1059.4L1223.6,1058.2L1225.0,1059.6L1225.4,1059.2L1227.5,1061.4L1227.8,1061.1L1230.0,1063.4L1231.2,1062.1L1232.5,1063.4L1234.3,1061.6L1235.0,1062.2L1236.0,1061.2L1237.5,1062.7L1238.7,1061.5L1240.0,1062.8L1241.5,1061.3L1242.5,1062.3L1243.6,1061.2L1245.0,1062.7L1246.3,1061.3L1247.5,1062.5L1248.8,1061.2L1250.0,1062.4L1251.3,1061.1L1252.5,1062.3L1254.0,1060.9L1255.0,1061.9L1256.4,1060.6L1257.5,1061.7L1258.6,1060.6L1260.0,1061.9L1261.1,1060.8L1262.5,1062.2L1263.4,1061.2L1265.0,1062.8L1266.7,1061.1L1267.5,1061.9L1267.9,1061.5L1270.0,1063.7L1273.5,1060.4L1275.0,1061.9L1275.7,1061.2L1277.5,1063.0L1279.5,1061.0L1280.0,1061.4L1280.5,1061.0L1282.5,1063.0L1284.3,1061.2L1285.0,1062.0L1286.8,1060.1L1287.5,1060.8L1288.7,1059.6L1290.0,1060.9L1291.0,1059.9L1292.5,1061.4L1294.3,1059.6L1297.5,1062.8L1299.5,1060.8L1300.0,1061.3L1301.2,1060.1L1302.5,1061.4L1303.4,1060.5L1305.0,1062.1L1306.4,1060.6L1307.5,1061.7L1308.1,1061.1L1310.0,1062.9L1311.3,1061.6L1312.5,1062.7L1313.2,1062.0L1315.0,1063.8L1316.7,1062.0L1317.5,1062.8L1318.8,1061.4L1320.0,1062.6L1320.9,1061.7L1322.5,1063.4L1325.8,1060.4L1327.5,1062.1L1329.1,1060.5L1330.0,1061.4L1330.4,1061.1L1332.5,1063.2L1333.7,1062.0L1335.0,1063.3L1338.5,1060.4L1340.0,1061.9L1340.4,1061.4L1342.5,1063.5L1343.4,1062.6L1345.0,1064.3L1346.0,1063.3L1347.5,1064.8L1348.1,1064.2L1352.5,1068.6L1353.1,1067.9L1357.5,1072.3L1370.0,1059.8L1366.7,1056.4L1367.5,1055.6L1355.0,1043.1L1354.0,1044.1L1350.0,1040.0L1348.9,1041.2L1347.5,1039.8L1346.6,1040.8L1337.5,1031.7L1336.2,1033.0L1335.0,1031.8L1330.6,1036.2L1330.0,1035.6L1329.3,1036.3L1327.5,1034.6L1325.4,1036.6L1325.0,1036.2L1324.1,1037.2L1322.5,1035.6L1321.4,1036.7L1320.0,1035.4L1318.4,1037.0L1317.5,1036.2L1316.5,1037.2L1315.0,1035.7L1314.5,1036.2L1312.5,1034.2L1311.5,1035.2L1310.0,1033.6L1306.5,1037.1L1305.0,1035.6L1304.0,1036.6L1302.5,1035.1L1300.7,1037.0L1300.0,1036.3L1298.9,1037.4L1297.5,1036.0L1297.1,1036.4L1295.0,1034.4L1293.6,1035.8L1292.5,1034.7L1290.6,1036.5L1290.0,1035.9L1288.8,1037.1L1287.5,1035.8L1286.5,1036.8L1285.0,1035.4L1283.4,1037.0L1282.5,1036.1L1281.1,1037.5L1280.0,1036.4L1278.1,1038.3L1277.5,1037.7L1276.6,1038.5L1275.0,1036.9L1274.0,1037.9L1272.5,1036.4L1270.1,1038.8L1267.5,1036.1L1265.4,1038.2L1265.0,1037.8L1264.1,1038.7L1262.5,1037.2L1261.4,1038.3L1260.0,1036.9L1258.9,1038.1L1257.5,1036.7L1256.1,1038.1L1255.0,1036.9L1253.5,1038.4L1252.5,1037.3L1251.2,1038.6L1250.0,1037.4L1248.7,1038.7L1247.5,1037.5L1246.2,1038.8L1245.0,1037.7L1243.9,1038.7L1242.5,1037.3L1241.0,1038.8L1240.0,1037.8L1238.8,1039.0L1237.5,1037.7L1236.5,1038.7L1235.0,1037.2L1233.2,1039.1L1232.5,1038.4L1231.3,1039.6L1227.5,1036.4L1227.1,1036.7L1225.0,1034.6L1223.9,1035.7L1217.5,1029.5L1216.0,1031.0L1212.5,1027.7L1211.9,1028.3L1210.0,1026.3L1209.4,1026.9L1207.5,1025.0L1206.8,1025.7L1202.5,1022.2L1201.6,1023.1L1200.0,1021.5L1199.6,1021.9L1197.5,1019.8L1197.0,1020.3L1192.5,1015.9L1191.4,1017.0L1185.0,1010.6L1184.3,1011.3L1168.8,996.1L1170.0,994.9L1160.1,985.0L1162.5,982.6L1156.4,976.4L1160.0,972.8L1156.2,969.0L1157.5,967.7L1151.8,962.0L1155.0,958.8L1151.0,954.9L1152.5,953.4L1147.3,948.2L1150.0,945.5L1145.3,940.8L1147.5,938.7L1141.5,932.4L1142.5,931.4L1138.6,927.5L1140.0,926.1L1136.5,922.6L1137.5,921.6L1134.4,918.4L1135.0,917.8L1131.9,914.8L1132.5,914.2L1129.4,911.1L1130.0,910.5L1124.5,905.1L1125.0,904.6L1112.5,892.1L1112.2,892.4L1110.0,890.2L1108.6,891.7L1107.5,890.6L1105.4,892.7L1105.0,892.3L1103.1,894.1L1102.5,893.5L1098.1,897.9L1097.5,897.3L1096.8,898.1L1085.0,886.3L1084.1,887.2L1073.7,876.9L1075.0,875.6L1062.5,863.1L1062.3,863.3L1055.0,856.0L1054.7,856.4L1044.7,846.5L1047.5,843.7L1043.1,839.3L1045.0,837.4L1039.4,831.8L1042.5,828.7L1038.9,825.2L1040.0,824.1L1020.0,803.9L1019.7,804.2L1015.0,799.4L1009.3,805.1L1000.0,795.8L987.5,808.3L988.3,809.1L983.2,814.5L982.5,813.9L981.9,814.5L980.0,812.6L979.2,813.4L977.5,811.7L972.7,816.4L971.5,815.2L975.0,811.7L968.9,805.6L970.0,804.5L957.5,792.0L957.1,792.4L950.0,785.2L938.4,796.9L934.7,793.0L935.0,792.7L917.5,775.1L895.0,797.6L895.9,798.5L890.0,804.5L891.7,806.2L887.5,810.4L890.3,813.2L885.0,818.6L887.0,820.6L882.5,825.1L885.2,827.8L880.0,833.0L882.6,835.6L877.5,840.7L878.8,841.9ZM842.2,886.6L840.0,884.4L827.5,896.9L835.2,904.7L827.5,912.4L835.2,920.2L827.5,927.9L835.2,935.6L827.5,943.4L840.0,955.9L840.9,955.0L842.5,956.6L843.8,955.3L845.0,956.5L847.1,954.4L847.5,954.9L848.4,954.0L850.0,955.5L853.5,952.6L855.0,954.1L855.7,953.4L857.5,955.3L859.4,953.4L862.5,956.5L866.4,952.6L867.5,953.7L868.7,952.5L872.5,956.3L887.5,941.5L886.5,940.5L887.5,939.5L875.0,927.0L874.5,927.5L872.5,925.5L870.9,927.1L866.4,922.5L867.5,921.4L861.6,915.0L862.5,914.1L856.7,908.3L860.0,905.0L857.1,902.1L857.5,901.7L855.0,898.8L842.5,886.3Z" fill="#000"/>
<path d="M849.3,852.6L849.3,892.5L846.3,892.5L846.3,941.0L843.3,941.0L843.3,980.9L840.3,980.9L840.3,994.9L837.3,994.9L837.3,1001.3L834.3,1001.3L834.3,1066.6L837.3,1066.6L837.3,1067.4L855.9,1067.4L855.9,1034.4L858.9,1034.4L858.9,994.7L861.9,994.7L861.9,962.5L864.9,962.5L864.9,954.1L867.9,954.1L867.9,949.1L873.3,948.9L873.3,949.7L876.3,949.7L876.3,956.0L879.3,956.0L879.3,960.8L882.3,960.8L882.3,968.7L885.3,968.7L885.3,974.6L888.3,974.6L888.3,976.1L894.3,976.1L894.3,976.6L900.3,977.2L900.3,978.5L903.3,978.5L903.3,987.0L906.3,987.0L906.3,996.9L912.3,996.9L912.3,998.9L918.3,998.9L918.3,999.8L927.3,999.8L927.3,1000.4L930.3,1000.4L930.3,1005.1L939.3,1005.1L939.3,1007.2L945.3,1007.2L945.3,1010.0L954.3,1010.0L954.3,1012.1L960.3,1012.1L960.3,1014.7L969.3,1014.7L969.3,1015.4L978.3,1015.4L978.3,1016.2L981.3,1016.2L981.3,1018.3L987.3,1018.3L987.3,1022.5L993.3,1022.5L993.3,1023.2L999.3,1023.5L999.3,1025.6L1002.3,1025.6L1002.3,1027.0L1008.3,1027.0L1008.3,1029.2L1017.3,1029.5L1017.3,1030.7L1035.9,1030.7L1035.9,1030.1L1041.3,1030.1L1041.3,1032.5L1050.3,1032.5L1050.3,1034.0L1056.3,1034.0L1056.3,1035.0L1059.3,1035.0L1059.3,1036.3L1062.3,1036.3L1062.3,1037.1L1068.3,1037.1L1068.3,1038.5L1071.3,1038.5L1071.3,1039.4L1086.3,1039.6L1086.3,1040.2L1101.3,1040.4L1101.3,1043.2L1113.3,1043.2L1113.3,1044.2L1125.3,1044.2L1125.3,1045.6L1137.3,1045.6L1137.3,1047.7L1140.3,1047.7L1140.3,1048.2L1149.3,1048.2L1149.3,1049.4L1167.9,1049.4L1167.9,1048.5L1173.9,1048.5L1173.9,1045.7L1191.9,1045.7L1191.9,1044.6L1194.9,1044.6L1194.9,1044.1L1215.9,1044.0L1215.9,1043.5L1218.9,1043.5L1218.9,1042.2L1221.3,1042.2L1221.3,1042.7L1236.3,1042.8L1236.3,1043.6L1242.3,1043.6L1242.3,1045.2L1245.3,1045.2L1245.3,1047.9L1257.3,1048.5L1257.3,1052.0L1260.3,1052.0L1260.3,1054.0L1263.3,1054.0L1263.3,1054.9L1269.3,1055.1L1269.3,1055.8L1275.3,1055.8L1275.3,1058.2L1281.3,1058.2L1281.3,1059.3L1284.3,1059.3L1284.3,1065.2L1287.3,1065.2L1287.3,1067.1L1290.3,1067.1L1290.3,1068.0L1293.3,1068.0L1293.3,1072.8L1296.3,1072.8L1296.3,1075.1L1299.3,1075.1L1299.3,1077.5L1302.3,1077.5L1302.3,1080.7L1305.3,1080.7L1305.3,1086.2L1308.3,1086.2L1308.3,1088.1L1311.3,1088.1L1311.3,1089.1L1314.3,1089.1L1314.3,1091.2L1317.3,1091.2L1317.3,1093.2L1329.3,1093.4L1329.3,1095.2L1338.3,1095.2L1338.3,1097.5L1344.3,1097.5L1344.3,1099.2L1347.3,1099.2L1347.3,1099.9L1353.3,1099.9L1353.3,1100.9L1377.9,1100.9L1377.9,1100.5L1380.3,1100.5L1386.3,1100.8L1386.3,1101.4L1407.9,1101.5L1407.9,1100.7L1419.9,1100.7L1419.9,1099.7L1434.9,1099.7L1434.9,1097.3L1440.9,1097.3L1440.9,1093.9L1446.9,1093.9L1446.9,1054.8L1428.3,1054.8L1428.3,1056.1L1425.3,1056.1L1425.3,1060.0L1422.3,1060.0L1422.3,1061.2L1410.3,1061.3L1410.3,1062.8L1404.3,1062.8L1404.3,1063.8L1368.9,1063.7L1368.9,1062.2L1341.3,1061.9L1341.3,1062.7L1335.3,1062.7L1335.3,1065.9L1329.3,1065.9L1329.3,1067.1L1326.9,1067.1L1326.9,1066.5L1323.9,1066.5L1323.9,1053.7L1320.9,1053.7L1320.9,1043.2L1317.9,1043.2L1317.9,1036.7L1314.9,1036.7L1314.9,1032.7L1311.9,1032.7L1311.9,1030.7L1308.9,1030.7L1308.9,1027.6L1302.9,1027.6L1302.9,1024.8L1299.9,1024.8L1299.9,1017.6L1296.9,1017.6L1296.9,1004.1L1287.9,1004.1L1287.9,1003.3L1269.3,1003.3L1269.3,1005.3L1263.9,1005.3L1263.9,1004.8L1260.9,1004.8L1260.9,1002.9L1248.9,1002.9L1248.9,1002.1L1245.9,1002.1L1245.9,992.1L1239.9,992.1L1239.9,991.0L1227.9,990.7L1227.9,990.2L1209.3,990.2L1209.3,995.1L1206.3,995.1L1206.3,998.1L1203.3,998.1L1203.3,1001.4L1185.3,1001.4L1185.3,1004.2L1179.3,1004.6L1179.3,1005.4L1170.9,1005.0L1170.9,1002.8L1146.9,1002.3L1146.9,1000.3L1131.9,1000.3L1131.9,993.3L1128.9,993.3L1128.9,992.3L1116.9,992.3L1116.9,991.5L1113.9,991.5L1113.9,991.1L1095.3,991.1L1095.3,994.1L1092.3,994.1L1092.3,995.2L1083.3,995.5L1083.3,996.1L1074.9,996.5L1074.9,995.0L1071.9,995.0L1071.9,994.3L1068.9,994.3L1068.9,993.2L1062.9,993.2L1062.9,992.4L1056.9,992.4L1056.9,991.5L1053.9,991.5L1053.9,990.6L1047.9,990.6L1047.9,989.4L1044.9,989.4L1044.9,988.7L1038.9,988.7L1038.9,987.8L1032.9,987.8L1032.9,986.5L1026.9,986.1L1026.9,982.5L1017.9,982.3L1017.9,977.1L1014.9,977.1L1014.9,974.8L1011.9,974.8L1011.9,973.6L1008.9,973.6L1008.9,970.3L1005.9,970.3L1005.9,967.3L1002.9,967.3L1002.9,965.9L999.9,965.9L999.9,963.2L993.9,962.9L993.9,962.3L984.9,962.3L984.9,961.7L966.3,961.7L966.3,963.4L963.9,963.4L963.9,960.5L960.9,960.5L960.9,955.6L945.9,955.6L942.9,955.5L942.9,954.7L939.9,954.7L939.9,952.0L936.9,952.0L936.9,945.5L933.9,945.5L933.9,942.8L927.9,942.8L927.9,941.1L924.9,941.1L924.9,935.3L921.9,935.3L921.9,929.5L918.9,929.5L918.9,925.8L915.9,925.8L915.9,922.8L912.9,922.8L912.9,921.0L906.9,921.0L906.9,914.8L903.9,914.8L903.9,909.7L900.9,909.7L900.9,905.5L897.9,905.5L897.9,899.2L894.9,899.2L894.9,891.4L891.9,891.4L891.9,883.7L888.9,883.7L888.9,876.3L885.9,876.3L885.9,872.0L882.9,872.0L882.9,866.5L879.9,866.5L879.9,859.8L876.9,859.8L876.9,853.7L873.9,853.7L873.9,849.6L852.3,849.7L852.3,852.6Z" fill="#ff0000"/>
<path d="M848.4,931.3L842.2,943.5L847.6,943.5L842.2,954.1L846.0,954.1L839.7,966.6L844.9,966.6L839.7,976.9L844.5,976.9L837.2,991.3L841.4,991.3L837.2,999.7L841.4,999.7L837.2,1008.1L840.0,1008.1L834.7,1019.2L850.3,1019.2L849.7,1020.3L854.3,1020.3L852.2,1024.6L858.4,1025.0L857.2,1027.4L860.6,1027.4L859.7,1029.2L863.8,1029.2L862.2,1032.4L869.1,1032.4L867.2,1036.2L873.9,1036.2L869.7,1044.4L874.8,1044.4L872.2,1049.6L877.9,1049.6L874.7,1055.9L881.2,1055.9L879.7,1059.0L900.2,1058.7L897.2,1064.6L900.1,1064.6L899.7,1065.3L904.9,1065.3L902.2,1070.7L906.0,1070.7L904.7,1073.4L908.0,1073.4L907.2,1074.9L909.9,1074.9L909.7,1075.3L935.0,1075.2L933.4,1072.1L940.0,1072.1L939.1,1070.3L942.5,1070.3L941.1,1067.5L945.0,1067.5L944.7,1068.1L952.5,1068.1L952.2,1068.6L955.0,1068.6L954.7,1069.1L960.0,1069.1L959.7,1069.6L987.5,1069.7L986.1,1066.9L990.0,1066.9L989.4,1065.8L992.5,1065.8L991.8,1064.4L997.4,1064.4L997.2,1064.8L1001.1,1064.8L999.7,1067.6L1005.4,1067.6L1004.7,1068.9L1007.6,1068.9L1007.2,1069.8L1016.4,1069.8L1014.7,1073.1L1023.4,1073.4L1022.2,1075.8L1040.0,1075.8L1039.4,1074.6L1045.0,1074.6L1044.8,1074.1L1047.5,1074.1L1045.7,1070.4L1050.0,1070.4L1047.9,1066.3L1057.5,1066.3L1056.9,1065.1L1065.0,1064.9L1064.3,1063.5L1072.9,1063.3L1072.2,1064.7L1080.8,1064.7L1079.7,1066.9L1085.3,1066.9L1084.7,1068.0L1087.7,1068.0L1087.2,1068.9L1101.9,1069.4L1099.7,1073.8L1103.1,1073.8L1102.2,1075.6L1108.8,1076.0L1107.2,1079.2L1132.7,1079.1L1132.2,1080.0L1138.5,1080.2L1137.2,1082.9L1148.4,1082.9L1147.2,1085.2L1160.5,1085.4L1159.7,1087.0L1177.5,1087.0L1176.8,1085.6L1180.0,1085.6L1179.6,1084.9L1180.6,1084.9L1179.7,1086.7L1195.0,1086.7L1194.7,1087.4L1210.6,1087.4L1209.7,1089.1L1215.7,1089.1L1214.7,1091.1L1230.9,1091.5L1229.7,1093.8L1265.0,1094.4L1264.5,1093.4L1267.6,1093.4L1267.2,1094.2L1272.5,1094.6L1272.2,1095.2L1276.2,1095.2L1274.7,1098.3L1282.6,1098.3L1282.2,1099.1L1288.9,1099.1L1287.2,1102.4L1295.7,1102.4L1294.7,1104.4L1298.0,1104.4L1297.2,1106.0L1306.8,1106.1L1304.7,1110.2L1308.2,1110.2L1307.2,1112.1L1310.9,1112.1L1309.7,1114.4L1312.2,1114.6L1330.0,1114.6L1326.8,1108.3L1332.5,1108.3L1331.9,1107.0L1340.0,1106.9L1339.7,1106.4L1342.5,1106.4L1341.3,1104.1L1352.5,1103.7L1352.1,1102.9L1354.9,1102.8L1357.6,1102.8L1357.2,1103.6L1361.0,1103.6L1359.7,1106.2L1362.8,1106.2L1362.2,1107.4L1368.9,1107.4L1367.2,1110.9L1370.4,1110.9L1369.7,1112.2L1372.5,1112.2L1372.2,1112.8L1375.0,1112.8L1374.7,1113.4L1377.4,1113.4L1377.2,1113.8L1395.0,1113.8L1392.9,1109.7L1397.5,1109.7L1397.2,1109.1L1400.0,1109.1L1399.8,1108.7L1415.0,1108.5L1413.3,1105.1L1420.0,1104.7L1418.6,1102.0L1425.0,1102.0L1424.2,1100.4L1427.5,1100.4L1426.2,1097.9L1430.0,1097.9L1429.3,1096.5L1432.5,1096.5L1430.3,1092.1L1435.0,1092.1L1434.5,1091.1L1437.5,1091.1L1436.5,1089.2L1440.0,1089.2L1437.5,1084.3L1442.5,1084.3L1440.7,1080.7L1445.0,1080.7L1444.2,1079.0L1447.5,1079.0L1444.1,1072.2L1445.0,1072.2L1444.2,1070.6L1447.5,1070.6L1444.1,1063.8L1445.0,1063.8L1444.2,1062.1L1447.5,1062.1L1444.1,1055.4L1445.0,1055.4L1444.1,1053.7L1447.5,1053.7L1444.1,1046.9L1445.0,1046.9L1436.1,1029.3L1435.1,1031.3L1433.6,1028.3L1429.3,1036.9L1428.6,1035.6L1426.4,1040.0L1426.1,1039.4L1424.0,1043.6L1423.6,1042.9L1421.8,1046.5L1421.1,1045.2L1419.0,1049.3L1418.6,1048.5L1416.7,1052.2L1416.1,1051.0L1411.4,1059.2L1411.1,1058.7L1404.9,1071.1L1403.6,1068.6L1401.9,1072.0L1401.1,1070.5L1399.6,1073.4L1398.6,1071.5L1396.7,1075.3L1396.1,1074.1L1395.1,1076.1L1393.6,1073.1L1392.9,1074.6L1391.1,1071.1L1389.6,1074.2L1386.1,1067.3L1383.9,1071.8L1383.6,1071.3L1382.5,1073.3L1381.1,1070.5L1379.8,1073.1L1378.6,1070.8L1377.1,1073.8L1376.1,1071.9L1375.1,1073.9L1373.6,1070.9L1372.8,1072.5L1372.0,1070.8L1372.5,1070.8L1358.6,1044.1L1357.1,1047.1L1356.1,1045.2L1349.2,1057.9L1348.6,1056.7L1344.9,1064.1L1343.6,1061.6L1343.0,1062.8L1341.1,1059.1L1339.6,1062.0L1338.6,1059.9L1337.6,1062.0L1336.1,1059.1L1335.3,1060.8L1333.6,1057.5L1331.5,1061.7L1331.1,1060.9L1330.7,1061.6L1328.6,1057.4L1326.6,1061.3L1326.1,1060.2L1321.7,1068.0L1321.1,1066.8L1319.5,1069.9L1318.6,1068.2L1316.8,1071.7L1316.1,1070.3L1315.1,1072.1L1313.6,1069.1L1312.5,1071.2L1311.1,1068.4L1310.1,1070.3L1308.6,1067.3L1307.8,1068.8L1306.1,1065.4L1304.6,1068.4L1303.6,1066.5L1302.5,1068.8L1301.1,1066.1L1300.8,1066.7L1298.6,1062.3L1298.4,1062.7L1296.1,1058.2L1295.8,1058.8L1291.1,1049.5L1290.7,1050.3L1286.1,1041.3L1284.2,1045.0L1283.6,1043.8L1282.3,1046.4L1281.1,1044.0L1279.9,1046.4L1278.6,1043.8L1277.3,1046.4L1276.1,1044.0L1274.6,1046.9L1273.6,1044.9L1271.6,1048.8L1271.1,1047.8L1269.2,1051.4L1268.6,1050.2L1266.5,1054.3L1266.1,1053.5L1262.7,1060.2L1261.1,1057.0L1260.6,1058.0L1258.6,1054.0L1258.2,1054.8L1256.1,1050.7L1255.0,1052.9L1253.6,1050.1L1252.7,1051.9L1251.1,1048.8L1247.5,1055.2L1246.1,1052.4L1245.5,1053.6L1243.6,1049.8L1243.0,1051.0L1238.6,1043.3L1237.8,1044.9L1233.6,1036.5L1232.3,1039.1L1231.1,1036.8L1230.4,1038.1L1226.1,1029.5L1224.3,1033.0L1223.6,1031.5L1222.0,1034.5L1221.1,1032.7L1219.3,1036.2L1218.6,1034.8L1217.1,1037.8L1216.1,1035.9L1212.5,1042.1L1211.1,1039.5L1209.3,1043.0L1208.6,1041.7L1207.5,1043.9L1206.1,1041.2L1204.1,1045.2L1203.6,1044.2L1203.0,1045.3L1201.1,1041.5L1199.1,1045.4L1198.6,1044.4L1197.5,1046.5L1196.1,1043.8L1194.8,1046.4L1193.6,1044.1L1191.5,1048.3L1191.1,1047.6L1189.9,1049.9L1188.6,1047.3L1188.2,1048.1L1186.1,1043.9L1184.4,1047.4L1183.6,1045.9L1182.7,1047.8L1181.1,1044.7L1180.7,1045.5L1178.6,1041.4L1177.1,1044.3L1176.1,1042.3L1174.6,1045.2L1173.6,1043.1L1172.5,1045.3L1171.1,1042.6L1169.3,1046.2L1168.6,1044.8L1166.3,1049.3L1163.6,1043.9L1163.2,1044.7L1156.1,1030.7L1155.9,1031.2L1153.6,1026.7L1152.3,1029.2L1151.1,1026.8L1149.0,1030.9L1148.6,1030.1L1144.1,1039.0L1143.6,1038.0L1142.0,1041.2L1141.1,1039.5L1140.8,1040.0L1138.6,1035.5L1138.3,1036.2L1136.1,1031.9L1134.9,1034.2L1133.6,1031.6L1132.8,1033.3L1128.6,1025.5L1126.7,1029.2L1126.1,1027.9L1124.6,1030.8L1123.6,1028.8L1122.0,1032.0L1121.1,1030.2L1119.6,1033.3L1118.6,1031.4L1116.8,1034.9L1116.1,1033.5L1114.9,1035.9L1113.6,1033.4L1112.3,1035.9L1106.1,1024.4L1105.2,1026.2L1103.6,1023.2L1102.6,1025.2L1101.1,1022.2L1099.6,1025.3L1098.6,1023.4L1094.2,1032.1L1081.1,1006.7L1079.6,1009.6L1078.6,1007.6L1076.6,1011.5L1076.1,1010.6L1074.5,1013.8L1073.6,1012.1L1072.8,1013.7L1071.1,1010.5L1066.7,1019.1L1066.1,1017.8L1062.3,1025.3L1058.6,1018.0L1058.3,1018.7L1056.1,1014.3L1055.4,1015.8L1053.6,1012.4L1049.0,1021.4L1048.6,1020.6L1038.9,1040.0L1038.6,1039.4L1036.7,1043.0L1036.1,1041.8L1035.0,1044.0L1033.6,1041.4L1031.6,1045.3L1031.1,1044.3L1030.0,1046.4L1023.6,1034.4L1023.2,1035.1L1018.6,1025.9L1017.6,1027.8L1016.1,1024.8L1014.7,1027.7L1013.6,1025.6L1012.2,1028.3L1011.1,1026.1L1009.0,1030.2L1008.6,1029.4L1008.3,1030.0L1001.1,1015.8L1000.9,1016.2L998.6,1011.7L994.1,1020.7L993.6,1019.8L992.0,1023.0L991.1,1021.2L984.9,1033.3L983.6,1030.8L981.9,1034.2L981.1,1032.7L979.0,1036.9L978.6,1036.2L977.6,1038.2L973.6,1030.4L975.0,1030.4L966.1,1012.8L965.4,1014.3L963.6,1010.8L961.7,1014.6L961.1,1013.4L959.2,1017.3L958.6,1016.2L954.5,1024.4L953.6,1022.6L951.6,1026.6L951.1,1025.5L950.1,1027.6L946.1,1019.9L944.7,1022.7L941.1,1015.5L940.2,1017.2L938.6,1014.0L937.6,1015.9L931.1,1004.4L929.1,1008.2L928.6,1007.2L919.7,1024.8L920.3,1024.8L918.9,1027.6L918.6,1027.0L917.5,1029.1L911.1,1017.2L909.7,1019.9L908.6,1017.6L907.0,1020.8L906.1,1019.1L905.3,1020.7L903.6,1017.3L902.3,1019.8L901.1,1017.4L899.1,1021.4L898.6,1020.5L897.2,1023.3L892.2,1013.1L892.5,1013.1L890.8,1009.7L895.0,1009.7L891.3,1002.4L892.5,1002.4L888.0,993.5L890.0,993.5L881.1,975.9L880.9,976.3L875.1,964.1L880.0,964.1L874.3,952.7L875.0,952.7L873.1,949.0L877.5,949.0L874.0,942.0L875.0,942.0L869.6,931.3L875.0,931.3L869.2,919.8L872.5,919.8L861.1,897.5L859.6,900.5L858.6,898.6L849.7,916.2L851.1,916.2L847.2,924.0L848.4,924.0L844.7,931.3ZM997.5,1064.3L997.3,1063.9L997.7,1063.9ZM1124.8,1078.8L1124.3,1077.7L1125.4,1077.7ZM1247.5,1093.8L1247.4,1093.6L1247.6,1093.6Z" fill="#0070c0"/>
<line x1="843.6" y1="1140.7" x2="843.6" y2="1151.5" stroke="#000" stroke-width="2"/>
<text x="843.6" y="1186.5" font-size="26" text-anchor="middle" fill="#000" >0</text>
<line x1="1042.2" y1="1140.7" x2="1042.2" y2="1151.5" stroke="#000" stroke-width="2"/>
<text x="1042.2" y="1186.5" font-size="26" text-anchor="middle" fill="#000" >500</text>
<line x1="1240.8" y1="1140.7" x2="1240.8" y2="1151.5" stroke="#000" stroke-width="2"/>
<text x="1240.8" y="1186.5" font-size="26" text-anchor="middle" fill="#000" >1000</text>
<line x1="1439.4" y1="1140.7" x2="1439.4" y2="1151.5" stroke="#000" stroke-width="2"/>
<text x="1439.4" y="1186.5" font-size="26" text-anchor="middle" fill="#000" >1500</text>
<text x="1141.5" y="1231.0" font-size="27" text-anchor="middle" fill="#000" >Distance (&#956;m)</text>
<text x="0" y="0" font-size="27" text-anchor="middle" transform="translate(761.5,901.5) rotate(-90)">Intensity</text>
<path d="M1159.7,676 L1172.2,688.5 L1159.7,701 L1147.2,688.5Z" fill="#000"/>
<rect x="1150.1" y="738.4" width="18.6" height="18.5" rx="1" fill="#ff0000"/>
<path d="M1159.6,799.7 L1168.5,817 L1150.8,817Z" fill="#0070c0"/>
<text x="1184.5" y="696.7" font-size="28.5" text-anchor="start" fill="#000" >Dox-iRGD</text>
<text x="1184.5" y="757.1" font-size="28.5" text-anchor="start" fill="#000" >Dox-iRDG</text>
<text x="1184.5" y="818.3" font-size="28.5" text-anchor="start" fill="#000" >Dox</text>
<text x="0.0" y="1856.0" font-size="42" text-anchor="start" fill="#000" font-weight="bold" >g</text>
<line x1="95.6" y1="2194.3" x2="381" y2="2194.3" stroke="#000" stroke-width="4"/>
<line x1="114.5" y1="1872.8" x2="114.5" y2="2196.3" stroke="#000" stroke-width="4"/>
<line x1="96.0" y1="2194.3" x2="114.5" y2="2194.3" stroke="#000" stroke-width="4"/>
<text x="83.0" y="2203.6" font-size="26" text-anchor="end" fill="#000" >0</text>
<line x1="96.0" y1="2087.3" x2="114.5" y2="2087.3" stroke="#000" stroke-width="4"/>
<text x="83.0" y="2096.6" font-size="26" text-anchor="end" fill="#000" >20</text>
<line x1="96.0" y1="1980.3" x2="114.5" y2="1980.3" stroke="#000" stroke-width="4"/>
<text x="83.0" y="1989.6" font-size="26" text-anchor="end" fill="#000" >40</text>
<line x1="96.0" y1="1873.3" x2="114.5" y2="1873.3" stroke="#000" stroke-width="4"/>
<text x="83.0" y="1882.6" font-size="26" text-anchor="end" fill="#000" >60</text>
<rect x="139.8" y="1973.9" width="53.6" height="220.4" fill="#000"/>
<rect x="220.3" y="1938.6" width="53.6" height="255.7" fill="#000"/>
<rect x="300.4" y="2024.2" width="53.4" height="170.1" fill="#000"/>
<path d="M166.6,1973.9V1921.3M153.2,1921.3H180.3" stroke="#000" stroke-width="2.2" fill="none"/>
<path d="M247.1,1938.6V1910.4M233.4,1910.4H260.2" stroke="#000" stroke-width="2.2" fill="none"/>
<path d="M327.4,2024.2V2012.6M313.8,2012.6H341" stroke="#000" stroke-width="2.2" fill="none"/>
<circle cx="149.2" cy="1932.1" r="8.4" fill="#e2e2e8" stroke="#000" stroke-width="2"/>
<circle cx="184.9" cy="1926.4" r="8.4" fill="#e2e2e8" stroke="#000" stroke-width="2"/>
<circle cx="166.9" cy="2004.6" r="8.4" fill="#e2e2e8" stroke="#000" stroke-width="2"/>
<circle cx="166.9" cy="2033.1" r="8.4" fill="#e2e2e8" stroke="#000" stroke-width="2"/>
<circle cx="228.8" cy="1920.7" r="8.4" fill="#e2e2e8" stroke="#000" stroke-width="2"/>
<circle cx="265.3" cy="1909" r="8.4" fill="#e2e2e8" stroke="#000" stroke-width="2"/>
<circle cx="228.8" cy="1966.9" r="8.4" fill="#e2e2e8" stroke="#000" stroke-width="2"/>
<circle cx="265.3" cy="1954.1" r="8.4" fill="#e2e2e8" stroke="#000" stroke-width="2"/>
<circle cx="309" cy="2009.7" r="8.4" fill="#e2e2e8" stroke="#000" stroke-width="2"/>
<circle cx="327.5" cy="2021.1" r="8.4" fill="#e2e2e8" stroke="#000" stroke-width="2"/>
<circle cx="345.8" cy="2024.5" r="8.4" fill="#e2e2e8" stroke="#000" stroke-width="2"/>
<circle cx="309" cy="2036" r="8.4" fill="#e2e2e8" stroke="#000" stroke-width="2"/>
<line x1="166.9" y1="2194.3" x2="166.9" y2="2212.3" stroke="#000" stroke-width="4"/>
<line x1="247" y1="2194.3" x2="247" y2="2212.3" stroke="#000" stroke-width="4"/>
<line x1="327.3" y1="2194.3" x2="327.3" y2="2212.3" stroke="#000" stroke-width="4"/>
<text x="0" y="0" font-size="29" text-anchor="middle" transform="translate(30.5,2037.5) rotate(-90)">%CD11b<tspan font-size="18" dy="-11">+</tspan><tspan dy="11">CD11c</tspan><tspan font-size="18" dy="-11">+</tspan></text>
<text x="0" y="0" font-size="29" text-anchor="end" transform="translate(173,2230) rotate(-45) translate(0,10)">Dox-iRGD</text>
<text x="0" y="0" font-size="29" text-anchor="end" transform="translate(255.5,2230) rotate(-45) translate(0,10)">Dox-iRDG</text>
<text x="0" y="0" font-size="29" text-anchor="end" transform="translate(333.5,2230) rotate(-45) translate(0,10)">Dox</text>
<text x="962.0" y="1856.0" font-size="42" text-anchor="start" fill="#000" font-weight="bold" >i</text>
<line x1="1101.2" y1="2199.4" x2="1395.3" y2="2199.4" stroke="#000" stroke-width="4"/>
<line x1="1120" y1="1868.75" x2="1120" y2="2201.4" stroke="#000" stroke-width="4"/>
<line x1="1101.5" y1="2199.4" x2="1120" y2="2199.4" stroke="#000" stroke-width="4"/>
<text x="1088.0" y="2208.7" font-size="26" text-anchor="end" fill="#000" >0</text>
<line x1="1101.5" y1="2116.9" x2="1120" y2="2116.9" stroke="#000" stroke-width="4"/>
<text x="1088.0" y="2126.2" font-size="26" text-anchor="end" fill="#000" >10</text>
<line x1="1101.5" y1="2034.4" x2="1120" y2="2034.4" stroke="#000" stroke-width="4"/>
<text x="1088.0" y="2043.7" font-size="26" text-anchor="end" fill="#000" >20</text>
<line x1="1101.5" y1="1951.9" x2="1120" y2="1951.9" stroke="#000" stroke-width="4"/>
<text x="1088.0" y="1961.2" font-size="26" text-anchor="end" fill="#000" >30</text>
<line x1="1101.5" y1="1869.4" x2="1120" y2="1869.4" stroke="#000" stroke-width="4"/>
<text x="1088.0" y="1878.7" font-size="26" text-anchor="end" fill="#000" >40</text>
<rect x="1147.5" y="2010.1" width="55.0" height="189.3" fill="#000"/>
<rect x="1230.3" y="2071.9" width="54.7" height="127.5" fill="#000"/>
<rect x="1313.1" y="1989.9" width="54.7" height="209.5" fill="#000"/>
<path d="M1175,2010.1V1945.3M1160,1945.3H1189.7" stroke="#000" stroke-width="2.2" fill="none"/>
<path d="M1257.6,2071.9V2043.1M1243.4,2043.1H1272.5" stroke="#000" stroke-width="2.2" fill="none"/>
<path d="M1340.3,1989.9V1947.5M1326.25,1947.5H1354.7" stroke="#000" stroke-width="2.2" fill="none"/>
<circle cx="1156.25" cy="1956.25" r="8.4" fill="#e2e2e8" stroke="#000" stroke-width="2"/>
<circle cx="1193.75" cy="1951.6" r="8.4" fill="#e2e2e8" stroke="#000" stroke-width="2"/>
<circle cx="1156.25" cy="2067.2" r="8.4" fill="#e2e2e8" stroke="#000" stroke-width="2"/>
<circle cx="1193.75" cy="2063.4" r="8.4" fill="#e2e2e8" stroke="#000" stroke-width="2"/>
<circle cx="1257.8" cy="2036.6" r="8.4" fill="#e2e2e8" stroke="#000" stroke-width="2"/>
<circle cx="1238.75" cy="2067.2" r="8.4" fill="#e2e2e8" stroke="#000" stroke-width="2"/>
<circle cx="1277.2" cy="2075" r="8.4" fill="#e2e2e8" stroke="#000" stroke-width="2"/>
<circle cx="1257.8" cy="2105.6" r="8.4" fill="#e2e2e8" stroke="#000" stroke-width="2"/>
<circle cx="1340.3" cy="1938.4" r="8.4" fill="#e2e2e8" stroke="#000" stroke-width="2"/>
<circle cx="1321.6" cy="1983.75" r="8.4" fill="#e2e2e8" stroke="#000" stroke-width="2"/>
<circle cx="1359.4" cy="1995.9" r="8.4" fill="#e2e2e8" stroke="#000" stroke-width="2"/>
<circle cx="1340.3" cy="2040" r="8.4" fill="#e2e2e8" stroke="#000" stroke-width="2"/>
<line x1="1175" y1="2199.4" x2="1175" y2="2217.4" stroke="#000" stroke-width="4"/>
<line x1="1257.5" y1="2199.4" x2="1257.5" y2="2217.4" stroke="#000" stroke-width="4"/>
<line x1="1340.3" y1="2199.4" x2="1340.3" y2="2217.4" stroke="#000" stroke-width="4"/>
<text x="0" y="0" font-size="29" text-anchor="middle" transform="translate(1001,2036.7) rotate(-90)">%CD86<tspan font-size="18" dy="-11">+</tspan><tspan dy="11">MHCII</tspan><tspan font-size="18" dy="-11">+</tspan><tspan dy="11"> within</tspan></text>
<text x="0" y="0" font-size="29" text-anchor="middle" transform="translate(1035.5,2036.7) rotate(-90)">CD11b<tspan font-size="18" dy="-11">+</tspan><tspan dy="11">CD11c</tspan><tspan font-size="18" dy="-11">+</tspan></text>
<text x="0" y="0" font-size="29" text-anchor="end" transform="translate(1184,2236.4) rotate(-45) translate(0,10)">Dox-iRGD</text>
<text x="0" y="0" font-size="29" text-anchor="end" transform="translate(1267.5,2236.4) rotate(-45) translate(0,10)">Dox-iRDG</text>
<text x="0" y="0" font-size="29" text-anchor="end" transform="translate(1344,2239.5) rotate(-45) translate(0,10)">Dox</text>
<text x="1006.0" y="1373.5" font-size="42" text-anchor="start" fill="#000" font-weight="bold" >f</text>
<rect x="1085.3" y="1666" width="108" height="39.90000000000009" fill="#e9eef8"/>
<g clip-path="url(#cf)"><rect x="1085.3" y="1364.5" width="371.29999999999995" height="341.4000000000001" fill="#b2bcf6" mask="url(#pfm0)"/><rect x="1085.3" y="1364.5" width="371.29999999999995" height="341.4000000000001" fill="#4868e8" mask="url(#pfm1)"/><rect x="1085.3" y="1364.5" width="371.29999999999995" height="341.4000000000001" fill="#30c4dc" mask="url(#pfm2)"/><rect x="1085.3" y="1364.5" width="371.29999999999995" height="341.4000000000001" fill="#74d64c" mask="url(#pfm3)"/><rect x="1085.3" y="1364.5" width="371.29999999999995" height="341.4000000000001" fill="#f2de22" mask="url(#pfm4)"/><rect x="1085.3" y="1364.5" width="371.29999999999995" height="341.4000000000001" fill="#ff6a1e" mask="url(#pfm5)"/></g>
<line x1="1224.4" y1="1364.5" x2="1224.4" y2="1705.9" stroke="#666" stroke-width="2.0"/>
<line x1="1085.3" y1="1594.6" x2="1456.6" y2="1594.6" stroke="#666" stroke-width="2.0"/>
<rect x="1085.3" y="1364.5" width="371.29999999999995" height="341.4000000000001" fill="none" stroke="#505050" stroke-width="2.2"/>
<line x1="1084.3" y1="1364.5" x2="1457.6" y2="1364.5" stroke="#9a9a9a" stroke-width="3.6"/>
<line x1="1064.8" y1="1703.3" x2="1085.3" y2="1703.3" stroke="#111" stroke-width="1.6"/><line x1="1075.8" y1="1682.6" x2="1085.3" y2="1682.6" stroke="#111" stroke-width="1.6"/><line x1="1075.8" y1="1670.5" x2="1085.3" y2="1670.5" stroke="#111" stroke-width="1.6"/><line x1="1075.8" y1="1661.9" x2="1085.3" y2="1661.9" stroke="#111" stroke-width="1.6"/><line x1="1075.8" y1="1655.2" x2="1085.3" y2="1655.2" stroke="#111" stroke-width="1.6"/><line x1="1075.8" y1="1649.8" x2="1085.3" y2="1649.8" stroke="#111" stroke-width="1.6"/><line x1="1075.8" y1="1645.2" x2="1085.3" y2="1645.2" stroke="#111" stroke-width="1.6"/><line x1="1075.8" y1="1641.2" x2="1085.3" y2="1641.2" stroke="#111" stroke-width="1.6"/><line x1="1075.8" y1="1637.6" x2="1085.3" y2="1637.6" stroke="#111" stroke-width="1.6"/><line x1="1064.8" y1="1634.5" x2="1085.3" y2="1634.5" stroke="#111" stroke-width="1.6"/><line x1="1075.8" y1="1609.9" x2="1085.3" y2="1609.9" stroke="#111" stroke-width="1.6"/><line x1="1075.8" y1="1595.5" x2="1085.3" y2="1595.5" stroke="#111" stroke-width="1.6"/><line x1="1075.8" y1="1585.3" x2="1085.3" y2="1585.3" stroke="#111" stroke-width="1.6"/><line x1="1075.8" y1="1577.3" x2="1085.3" y2="1577.3" stroke="#111" stroke-width="1.6"/><line x1="1075.8" y1="1570.8" x2="1085.3" y2="1570.8" stroke="#111" stroke-width="1.6"/><line x1="1075.8" y1="1565.4" x2="1085.3" y2="1565.4" stroke="#111" stroke-width="1.6"/><line x1="1075.8" y1="1560.6" x2="1085.3" y2="1560.6" stroke="#111" stroke-width="1.6"/><line x1="1075.8" y1="1556.4" x2="1085.3" y2="1556.4" stroke="#111" stroke-width="1.6"/><line x1="1064.8" y1="1552.7" x2="1085.3" y2="1552.7" stroke="#111" stroke-width="1.6"/><line x1="1075.8" y1="1528.5" x2="1085.3" y2="1528.5" stroke="#111" stroke-width="1.6"/><line x1="1075.8" y1="1514.4" x2="1085.3" y2="1514.4" stroke="#111" stroke-width="1.6"/><line x1="1075.8" y1="1504.4" x2="1085.3" y2="1504.4" stroke="#111" stroke-width="1.6"/><line x1="1075.8" y1="1496.6" x2="1085.3" y2="1496.6" stroke="#111" stroke-width="1.6"/><line x1="1075.8" y1="1490.2" x2="1085.3" y2="1490.2" stroke="#111" stroke-width="1.6"/><line x1="1075.8" y1="1484.8" x2="1085.3" y2="1484.8" stroke="#111" stroke-width="1.6"/><line x1="1075.8" y1="1480.2" x2="1085.3" y2="1480.2" stroke="#111" stroke-width="1.6"/><line x1="1075.8" y1="1476.1" x2="1085.3" y2="1476.1" stroke="#111" stroke-width="1.6"/><line x1="1064.8" y1="1472.4" x2="1085.3" y2="1472.4" stroke="#111" stroke-width="1.6"/><line x1="1075.8" y1="1450.0" x2="1085.3" y2="1450.0" stroke="#111" stroke-width="1.6"/><line x1="1075.8" y1="1436.9" x2="1085.3" y2="1436.9" stroke="#111" stroke-width="1.6"/><line x1="1075.8" y1="1427.7" x2="1085.3" y2="1427.7" stroke="#111" stroke-width="1.6"/><line x1="1075.8" y1="1420.5" x2="1085.3" y2="1420.5" stroke="#111" stroke-width="1.6"/><line x1="1075.8" y1="1414.6" x2="1085.3" y2="1414.6" stroke="#111" stroke-width="1.6"/><line x1="1075.8" y1="1409.6" x2="1085.3" y2="1409.6" stroke="#111" stroke-width="1.6"/><line x1="1075.8" y1="1405.3" x2="1085.3" y2="1405.3" stroke="#111" stroke-width="1.6"/><line x1="1075.8" y1="1401.5" x2="1085.3" y2="1401.5" stroke="#111" stroke-width="1.6"/><line x1="1064.8" y1="1398.1" x2="1085.3" y2="1398.1" stroke="#111" stroke-width="1.6"/>
<line x1="1085.0" y1="1705.9" x2="1085.0" y2="1722.9" stroke="#111" stroke-width="1.6"/><line x1="1107.7" y1="1705.9" x2="1107.7" y2="1713.9" stroke="#111" stroke-width="1.6"/><line x1="1120.9" y1="1705.9" x2="1120.9" y2="1713.9" stroke="#111" stroke-width="1.6"/><line x1="1130.3" y1="1705.9" x2="1130.3" y2="1713.9" stroke="#111" stroke-width="1.6"/><line x1="1137.6" y1="1705.9" x2="1137.6" y2="1713.9" stroke="#111" stroke-width="1.6"/><line x1="1143.6" y1="1705.9" x2="1143.6" y2="1713.9" stroke="#111" stroke-width="1.6"/><line x1="1148.6" y1="1705.9" x2="1148.6" y2="1713.9" stroke="#111" stroke-width="1.6"/><line x1="1153.0" y1="1705.9" x2="1153.0" y2="1713.9" stroke="#111" stroke-width="1.6"/><line x1="1156.9" y1="1705.9" x2="1156.9" y2="1713.9" stroke="#111" stroke-width="1.6"/><line x1="1160.3" y1="1705.9" x2="1160.3" y2="1722.9" stroke="#111" stroke-width="1.6"/><line x1="1187.4" y1="1705.9" x2="1187.4" y2="1713.9" stroke="#111" stroke-width="1.6"/><line x1="1203.2" y1="1705.9" x2="1203.2" y2="1713.9" stroke="#111" stroke-width="1.6"/><line x1="1214.5" y1="1705.9" x2="1214.5" y2="1713.9" stroke="#111" stroke-width="1.6"/><line x1="1223.2" y1="1705.9" x2="1223.2" y2="1713.9" stroke="#111" stroke-width="1.6"/><line x1="1230.3" y1="1705.9" x2="1230.3" y2="1713.9" stroke="#111" stroke-width="1.6"/><line x1="1236.4" y1="1705.9" x2="1236.4" y2="1713.9" stroke="#111" stroke-width="1.6"/><line x1="1241.6" y1="1705.9" x2="1241.6" y2="1713.9" stroke="#111" stroke-width="1.6"/><line x1="1246.2" y1="1705.9" x2="1246.2" y2="1713.9" stroke="#111" stroke-width="1.6"/><line x1="1250.3" y1="1705.9" x2="1250.3" y2="1722.9" stroke="#111" stroke-width="1.6"/><line x1="1276.4" y1="1705.9" x2="1276.4" y2="1713.9" stroke="#111" stroke-width="1.6"/><line x1="1291.7" y1="1705.9" x2="1291.7" y2="1713.9" stroke="#111" stroke-width="1.6"/><line x1="1302.6" y1="1705.9" x2="1302.6" y2="1713.9" stroke="#111" stroke-width="1.6"/><line x1="1311.0" y1="1705.9" x2="1311.0" y2="1713.9" stroke="#111" stroke-width="1.6"/><line x1="1317.8" y1="1705.9" x2="1317.8" y2="1713.9" stroke="#111" stroke-width="1.6"/><line x1="1323.7" y1="1705.9" x2="1323.7" y2="1713.9" stroke="#111" stroke-width="1.6"/><line x1="1328.7" y1="1705.9" x2="1328.7" y2="1713.9" stroke="#111" stroke-width="1.6"/><line x1="1333.1" y1="1705.9" x2="1333.1" y2="1713.9" stroke="#111" stroke-width="1.6"/><line x1="1337.1" y1="1705.9" x2="1337.1" y2="1722.9" stroke="#111" stroke-width="1.6"/><line x1="1361.8" y1="1705.9" x2="1361.8" y2="1713.9" stroke="#111" stroke-width="1.6"/><line x1="1376.2" y1="1705.9" x2="1376.2" y2="1713.9" stroke="#111" stroke-width="1.6"/><line x1="1386.4" y1="1705.9" x2="1386.4" y2="1713.9" stroke="#111" stroke-width="1.6"/><line x1="1394.3" y1="1705.9" x2="1394.3" y2="1713.9" stroke="#111" stroke-width="1.6"/><line x1="1400.8" y1="1705.9" x2="1400.8" y2="1713.9" stroke="#111" stroke-width="1.6"/><line x1="1406.3" y1="1705.9" x2="1406.3" y2="1713.9" stroke="#111" stroke-width="1.6"/><line x1="1411.1" y1="1705.9" x2="1411.1" y2="1713.9" stroke="#111" stroke-width="1.6"/><line x1="1415.3" y1="1705.9" x2="1415.3" y2="1713.9" stroke="#111" stroke-width="1.6"/><line x1="1419.0" y1="1705.9" x2="1419.0" y2="1722.9" stroke="#111" stroke-width="1.6"/>
<text x="1090.5" y="1390.7" font-size="32.6" text-anchor="start" fill="#1c1c28" class="mono" transform="translate(1090.5,1390.7) scale(1.045,1.1) translate(-1090.5,-1390.7)">1.42%</text>
<text x="1449" y="1390.7" font-size="32.6" text-anchor="end" fill="#1c1c28" class="mono" transform="translate(1449,1390.7) scale(1.045,1.1) translate(-1449,-1390.7)">45.0%</text>
<text x="1090" y="1700" font-size="32.6" text-anchor="start" fill="#1c1c28" class="mono" transform="translate(1090,1700) scale(1.045,1.1) translate(-1090,-1700)">28.3%</text>
<text x="1449" y="1700" font-size="32.6" text-anchor="end" fill="#1c1c28" class="mono" transform="translate(1449,1700) scale(1.045,1.1) translate(-1449,-1700)">25.3%</text>
<line x1="1046.3" y1="1737.7" x2="1048.8" y2="1384" stroke="#000" stroke-width="2"/>
<path d="M1048.8,1366 L1059.5,1386 L1038.1,1386Z" fill="#000"/>
<line x1="1046.3" y1="1737.7" x2="1450" y2="1739.3" stroke="#000" stroke-width="2"/>
<path d="M1468,1739.3 L1448,1728.6 L1448,1750.0Z" fill="#000"/>
<text x="0" y="0" font-size="28" text-anchor="middle" transform="translate(1032.5,1539.5) rotate(-90)">CD11c</text>
<text x="1247.5" y="1772.7" font-size="28" text-anchor="middle" fill="#000" >CD11b</text>
<text x="489.0" y="1857.0" font-size="42" text-anchor="start" fill="#000" font-weight="bold" >h</text>
<rect x="572.4" y="2039" width="76" height="24.59999999999991" fill="#e9eef8"/>
<g clip-path="url(#ch1)"><rect x="572.4" y="1846.6" width="253.30000000000007" height="217.0" fill="#b2bcf6" mask="url(#ph1m0)"/><rect x="572.4" y="1846.6" width="253.30000000000007" height="217.0" fill="#4868e8" mask="url(#ph1m1)"/><rect x="572.4" y="1846.6" width="253.30000000000007" height="217.0" fill="#30c4dc" mask="url(#ph1m2)"/><rect x="572.4" y="1846.6" width="253.30000000000007" height="217.0" fill="#74d64c" mask="url(#ph1m3)"/><rect x="572.4" y="1846.6" width="253.30000000000007" height="217.0" fill="#f2de22" mask="url(#ph1m4)"/></g>
<line x1="685.2" y1="1846.6" x2="685.2" y2="2063.6" stroke="#666" stroke-width="1.7"/>
<line x1="572.4" y1="2001.9" x2="825.7" y2="2001.9" stroke="#666" stroke-width="1.7"/>
<rect x="572.4" y="1846.6" width="253.30000000000007" height="217.0" fill="none" stroke="#505050" stroke-width="2.2"/>
<line x1="571.4" y1="1846.6" x2="826.7" y2="1846.6" stroke="#9a9a9a" stroke-width="3.0"/>
<line x1="555.4" y1="2062.0" x2="572.4" y2="2062.0" stroke="#111" stroke-width="1.6"/><line x1="564.4" y1="2049.4" x2="572.4" y2="2049.4" stroke="#111" stroke-width="1.6"/><line x1="564.4" y1="2042.0" x2="572.4" y2="2042.0" stroke="#111" stroke-width="1.6"/><line x1="564.4" y1="2036.7" x2="572.4" y2="2036.7" stroke="#111" stroke-width="1.6"/><line x1="564.4" y1="2032.6" x2="572.4" y2="2032.6" stroke="#111" stroke-width="1.6"/><line x1="564.4" y1="2029.3" x2="572.4" y2="2029.3" stroke="#111" stroke-width="1.6"/><line x1="564.4" y1="2026.5" x2="572.4" y2="2026.5" stroke="#111" stroke-width="1.6"/><line x1="564.4" y1="2024.1" x2="572.4" y2="2024.1" stroke="#111" stroke-width="1.6"/><line x1="564.4" y1="2021.9" x2="572.4" y2="2021.9" stroke="#111" stroke-width="1.6"/><line x1="555.4" y1="2020.0" x2="572.4" y2="2020.0" stroke="#111" stroke-width="1.6"/><line x1="564.4" y1="2004.9" x2="572.4" y2="2004.9" stroke="#111" stroke-width="1.6"/><line x1="564.4" y1="1996.1" x2="572.4" y2="1996.1" stroke="#111" stroke-width="1.6"/><line x1="564.4" y1="1989.9" x2="572.4" y2="1989.9" stroke="#111" stroke-width="1.6"/><line x1="564.4" y1="1985.1" x2="572.4" y2="1985.1" stroke="#111" stroke-width="1.6"/><line x1="564.4" y1="1981.1" x2="572.4" y2="1981.1" stroke="#111" stroke-width="1.6"/><line x1="564.4" y1="1977.7" x2="572.4" y2="1977.7" stroke="#111" stroke-width="1.6"/><line x1="564.4" y1="1974.8" x2="572.4" y2="1974.8" stroke="#111" stroke-width="1.6"/><line x1="564.4" y1="1972.3" x2="572.4" y2="1972.3" stroke="#111" stroke-width="1.6"/><line x1="555.4" y1="1970.0" x2="572.4" y2="1970.0" stroke="#111" stroke-width="1.6"/><line x1="564.4" y1="1952.5" x2="572.4" y2="1952.5" stroke="#111" stroke-width="1.6"/><line x1="564.4" y1="1942.3" x2="572.4" y2="1942.3" stroke="#111" stroke-width="1.6"/><line x1="564.4" y1="1935.1" x2="572.4" y2="1935.1" stroke="#111" stroke-width="1.6"/><line x1="564.4" y1="1929.5" x2="572.4" y2="1929.5" stroke="#111" stroke-width="1.6"/><line x1="564.4" y1="1924.9" x2="572.4" y2="1924.9" stroke="#111" stroke-width="1.6"/><line x1="564.4" y1="1921.0" x2="572.4" y2="1921.0" stroke="#111" stroke-width="1.6"/><line x1="564.4" y1="1917.6" x2="572.4" y2="1917.6" stroke="#111" stroke-width="1.6"/><line x1="564.4" y1="1914.7" x2="572.4" y2="1914.7" stroke="#111" stroke-width="1.6"/><line x1="555.4" y1="1912.0" x2="572.4" y2="1912.0" stroke="#111" stroke-width="1.6"/><line x1="564.4" y1="1894.8" x2="572.4" y2="1894.8" stroke="#111" stroke-width="1.6"/><line x1="564.4" y1="1884.8" x2="572.4" y2="1884.8" stroke="#111" stroke-width="1.6"/><line x1="564.4" y1="1877.7" x2="572.4" y2="1877.7" stroke="#111" stroke-width="1.6"/><line x1="564.4" y1="1872.2" x2="572.4" y2="1872.2" stroke="#111" stroke-width="1.6"/><line x1="564.4" y1="1867.6" x2="572.4" y2="1867.6" stroke="#111" stroke-width="1.6"/><line x1="564.4" y1="1863.8" x2="572.4" y2="1863.8" stroke="#111" stroke-width="1.6"/><line x1="564.4" y1="1860.5" x2="572.4" y2="1860.5" stroke="#111" stroke-width="1.6"/><line x1="564.4" y1="1857.6" x2="572.4" y2="1857.6" stroke="#111" stroke-width="1.6"/><line x1="555.4" y1="1855.0" x2="572.4" y2="1855.0" stroke="#111" stroke-width="1.6"/>
<line x1="572.4" y1="2063.6" x2="572.4" y2="2077.6" stroke="#111" stroke-width="1.6"/><line x1="587.9" y1="2063.6" x2="587.9" y2="2070.6" stroke="#111" stroke-width="1.6"/><line x1="597.0" y1="2063.6" x2="597.0" y2="2070.6" stroke="#111" stroke-width="1.6"/><line x1="603.5" y1="2063.6" x2="603.5" y2="2070.6" stroke="#111" stroke-width="1.6"/><line x1="608.5" y1="2063.6" x2="608.5" y2="2070.6" stroke="#111" stroke-width="1.6"/><line x1="612.6" y1="2063.6" x2="612.6" y2="2070.6" stroke="#111" stroke-width="1.6"/><line x1="616.0" y1="2063.6" x2="616.0" y2="2070.6" stroke="#111" stroke-width="1.6"/><line x1="619.0" y1="2063.6" x2="619.0" y2="2070.6" stroke="#111" stroke-width="1.6"/><line x1="621.6" y1="2063.6" x2="621.6" y2="2070.6" stroke="#111" stroke-width="1.6"/><line x1="624.0" y1="2063.6" x2="624.0" y2="2077.6" stroke="#111" stroke-width="1.6"/><line x1="642.4" y1="2063.6" x2="642.4" y2="2070.6" stroke="#111" stroke-width="1.6"/><line x1="653.2" y1="2063.6" x2="653.2" y2="2070.6" stroke="#111" stroke-width="1.6"/><line x1="660.8" y1="2063.6" x2="660.8" y2="2070.6" stroke="#111" stroke-width="1.6"/><line x1="666.8" y1="2063.6" x2="666.8" y2="2070.6" stroke="#111" stroke-width="1.6"/><line x1="671.6" y1="2063.6" x2="671.6" y2="2070.6" stroke="#111" stroke-width="1.6"/><line x1="675.7" y1="2063.6" x2="675.7" y2="2070.6" stroke="#111" stroke-width="1.6"/><line x1="679.3" y1="2063.6" x2="679.3" y2="2070.6" stroke="#111" stroke-width="1.6"/><line x1="682.4" y1="2063.6" x2="682.4" y2="2070.6" stroke="#111" stroke-width="1.6"/><line x1="685.2" y1="2063.6" x2="685.2" y2="2077.6" stroke="#111" stroke-width="1.6"/><line x1="703.5" y1="2063.6" x2="703.5" y2="2070.6" stroke="#111" stroke-width="1.6"/><line x1="714.2" y1="2063.6" x2="714.2" y2="2070.6" stroke="#111" stroke-width="1.6"/><line x1="721.8" y1="2063.6" x2="721.8" y2="2070.6" stroke="#111" stroke-width="1.6"/><line x1="727.7" y1="2063.6" x2="727.7" y2="2070.6" stroke="#111" stroke-width="1.6"/><line x1="732.5" y1="2063.6" x2="732.5" y2="2070.6" stroke="#111" stroke-width="1.6"/><line x1="736.6" y1="2063.6" x2="736.6" y2="2070.6" stroke="#111" stroke-width="1.6"/><line x1="740.1" y1="2063.6" x2="740.1" y2="2070.6" stroke="#111" stroke-width="1.6"/><line x1="743.2" y1="2063.6" x2="743.2" y2="2070.6" stroke="#111" stroke-width="1.6"/><line x1="746.0" y1="2063.6" x2="746.0" y2="2077.6" stroke="#111" stroke-width="1.6"/><line x1="762.9" y1="2063.6" x2="762.9" y2="2070.6" stroke="#111" stroke-width="1.6"/><line x1="772.7" y1="2063.6" x2="772.7" y2="2070.6" stroke="#111" stroke-width="1.6"/><line x1="779.7" y1="2063.6" x2="779.7" y2="2070.6" stroke="#111" stroke-width="1.6"/><line x1="785.1" y1="2063.6" x2="785.1" y2="2070.6" stroke="#111" stroke-width="1.6"/><line x1="789.6" y1="2063.6" x2="789.6" y2="2070.6" stroke="#111" stroke-width="1.6"/><line x1="793.3" y1="2063.6" x2="793.3" y2="2070.6" stroke="#111" stroke-width="1.6"/><line x1="796.6" y1="2063.6" x2="796.6" y2="2070.6" stroke="#111" stroke-width="1.6"/><line x1="799.4" y1="2063.6" x2="799.4" y2="2070.6" stroke="#111" stroke-width="1.6"/><line x1="802.0" y1="2063.6" x2="802.0" y2="2077.6" stroke="#111" stroke-width="1.6"/>
<text x="577" y="1863.9" font-size="22.4" text-anchor="start" fill="#1c1c28" class="mono" transform="translate(577,1863.9) scale(1.045,1.1) translate(-577,-1863.9)">4.98%</text>
<text x="820" y="1863.9" font-size="22.4" text-anchor="end" fill="#1c1c28" class="mono" transform="translate(820,1863.9) scale(1.045,1.1) translate(-820,-1863.9)">16.9%</text>
<text x="577" y="2059.5" font-size="22.4" text-anchor="start" fill="#1c1c28" class="mono" transform="translate(577,2059.5) scale(1.045,1.1) translate(-577,-2059.5)">46.3%</text>
<text x="820" y="2059.5" font-size="22.4" text-anchor="end" fill="#1c1c28" class="mono" transform="translate(820,2059.5) scale(1.045,1.1) translate(-820,-2059.5)">31.8%</text>
<rect x="569.1" y="2281" width="74" height="26.59999999999991" fill="#e9eef8"/>
<g clip-path="url(#ch2)"><rect x="569.1" y="2085.5" width="258.69999999999993" height="222.0999999999999" fill="#b2bcf6" mask="url(#ph2m0)"/><rect x="569.1" y="2085.5" width="258.69999999999993" height="222.0999999999999" fill="#4868e8" mask="url(#ph2m1)"/><rect x="569.1" y="2085.5" width="258.69999999999993" height="222.0999999999999" fill="#30c4dc" mask="url(#ph2m2)"/><rect x="569.1" y="2085.5" width="258.69999999999993" height="222.0999999999999" fill="#74d64c" mask="url(#ph2m3)"/><rect x="569.1" y="2085.5" width="258.69999999999993" height="222.0999999999999" fill="#f2de22" mask="url(#ph2m4)"/><rect x="569.1" y="2085.5" width="258.69999999999993" height="222.0999999999999" fill="#ff6a1e" mask="url(#ph2m5)"/></g>
<line x1="683.8" y1="2085.5" x2="683.8" y2="2307.6" stroke="#666" stroke-width="1.7"/>
<line x1="569.1" y1="2244.3" x2="827.8" y2="2244.3" stroke="#666" stroke-width="1.7"/>
<rect x="569.1" y="2085.5" width="258.69999999999993" height="222.0999999999999" fill="none" stroke="#505050" stroke-width="2.2"/>
<line x1="568.1" y1="2085.5" x2="828.8" y2="2085.5" stroke="#9a9a9a" stroke-width="3.0"/>
<line x1="552.1" y1="2306.0" x2="569.1" y2="2306.0" stroke="#111" stroke-width="1.6"/><line x1="561.1" y1="2292.8" x2="569.1" y2="2292.8" stroke="#111" stroke-width="1.6"/><line x1="561.1" y1="2285.0" x2="569.1" y2="2285.0" stroke="#111" stroke-width="1.6"/><line x1="561.1" y1="2279.5" x2="569.1" y2="2279.5" stroke="#111" stroke-width="1.6"/><line x1="561.1" y1="2275.2" x2="569.1" y2="2275.2" stroke="#111" stroke-width="1.6"/><line x1="561.1" y1="2271.8" x2="569.1" y2="2271.8" stroke="#111" stroke-width="1.6"/><line x1="561.1" y1="2268.8" x2="569.1" y2="2268.8" stroke="#111" stroke-width="1.6"/><line x1="561.1" y1="2266.3" x2="569.1" y2="2266.3" stroke="#111" stroke-width="1.6"/><line x1="561.1" y1="2264.0" x2="569.1" y2="2264.0" stroke="#111" stroke-width="1.6"/><line x1="552.1" y1="2262.0" x2="569.1" y2="2262.0" stroke="#111" stroke-width="1.6"/><line x1="561.1" y1="2246.3" x2="569.1" y2="2246.3" stroke="#111" stroke-width="1.6"/><line x1="561.1" y1="2237.2" x2="569.1" y2="2237.2" stroke="#111" stroke-width="1.6"/><line x1="561.1" y1="2230.7" x2="569.1" y2="2230.7" stroke="#111" stroke-width="1.6"/><line x1="561.1" y1="2225.7" x2="569.1" y2="2225.7" stroke="#111" stroke-width="1.6"/><line x1="561.1" y1="2221.5" x2="569.1" y2="2221.5" stroke="#111" stroke-width="1.6"/><line x1="561.1" y1="2218.1" x2="569.1" y2="2218.1" stroke="#111" stroke-width="1.6"/><line x1="561.1" y1="2215.0" x2="569.1" y2="2215.0" stroke="#111" stroke-width="1.6"/><line x1="561.1" y1="2212.4" x2="569.1" y2="2212.4" stroke="#111" stroke-width="1.6"/><line x1="552.1" y1="2210.0" x2="569.1" y2="2210.0" stroke="#111" stroke-width="1.6"/><line x1="561.1" y1="2191.9" x2="569.1" y2="2191.9" stroke="#111" stroke-width="1.6"/><line x1="561.1" y1="2181.4" x2="569.1" y2="2181.4" stroke="#111" stroke-width="1.6"/><line x1="561.1" y1="2173.9" x2="569.1" y2="2173.9" stroke="#111" stroke-width="1.6"/><line x1="561.1" y1="2168.1" x2="569.1" y2="2168.1" stroke="#111" stroke-width="1.6"/><line x1="561.1" y1="2163.3" x2="569.1" y2="2163.3" stroke="#111" stroke-width="1.6"/><line x1="561.1" y1="2159.3" x2="569.1" y2="2159.3" stroke="#111" stroke-width="1.6"/><line x1="561.1" y1="2155.8" x2="569.1" y2="2155.8" stroke="#111" stroke-width="1.6"/><line x1="561.1" y1="2152.7" x2="569.1" y2="2152.7" stroke="#111" stroke-width="1.6"/><line x1="552.1" y1="2150.0" x2="569.1" y2="2150.0" stroke="#111" stroke-width="1.6"/><line x1="561.1" y1="2132.8" x2="569.1" y2="2132.8" stroke="#111" stroke-width="1.6"/><line x1="561.1" y1="2122.8" x2="569.1" y2="2122.8" stroke="#111" stroke-width="1.6"/><line x1="561.1" y1="2115.7" x2="569.1" y2="2115.7" stroke="#111" stroke-width="1.6"/><line x1="561.1" y1="2110.2" x2="569.1" y2="2110.2" stroke="#111" stroke-width="1.6"/><line x1="561.1" y1="2105.6" x2="569.1" y2="2105.6" stroke="#111" stroke-width="1.6"/><line x1="561.1" y1="2101.8" x2="569.1" y2="2101.8" stroke="#111" stroke-width="1.6"/><line x1="561.1" y1="2098.5" x2="569.1" y2="2098.5" stroke="#111" stroke-width="1.6"/><line x1="561.1" y1="2095.6" x2="569.1" y2="2095.6" stroke="#111" stroke-width="1.6"/><line x1="552.1" y1="2093.0" x2="569.1" y2="2093.0" stroke="#111" stroke-width="1.6"/>
<line x1="569.1" y1="2307.6" x2="569.1" y2="2321.6" stroke="#111" stroke-width="1.6"/><line x1="585.0" y1="2307.6" x2="585.0" y2="2314.6" stroke="#111" stroke-width="1.6"/><line x1="594.3" y1="2307.6" x2="594.3" y2="2314.6" stroke="#111" stroke-width="1.6"/><line x1="600.9" y1="2307.6" x2="600.9" y2="2314.6" stroke="#111" stroke-width="1.6"/><line x1="606.1" y1="2307.6" x2="606.1" y2="2314.6" stroke="#111" stroke-width="1.6"/><line x1="610.3" y1="2307.6" x2="610.3" y2="2314.6" stroke="#111" stroke-width="1.6"/><line x1="613.8" y1="2307.6" x2="613.8" y2="2314.6" stroke="#111" stroke-width="1.6"/><line x1="616.9" y1="2307.6" x2="616.9" y2="2314.6" stroke="#111" stroke-width="1.6"/><line x1="619.6" y1="2307.6" x2="619.6" y2="2314.6" stroke="#111" stroke-width="1.6"/><line x1="622.0" y1="2307.6" x2="622.0" y2="2321.6" stroke="#111" stroke-width="1.6"/><line x1="640.6" y1="2307.6" x2="640.6" y2="2314.6" stroke="#111" stroke-width="1.6"/><line x1="651.5" y1="2307.6" x2="651.5" y2="2314.6" stroke="#111" stroke-width="1.6"/><line x1="659.2" y1="2307.6" x2="659.2" y2="2314.6" stroke="#111" stroke-width="1.6"/><line x1="665.2" y1="2307.6" x2="665.2" y2="2314.6" stroke="#111" stroke-width="1.6"/><line x1="670.1" y1="2307.6" x2="670.1" y2="2314.6" stroke="#111" stroke-width="1.6"/><line x1="674.2" y1="2307.6" x2="674.2" y2="2314.6" stroke="#111" stroke-width="1.6"/><line x1="677.8" y1="2307.6" x2="677.8" y2="2314.6" stroke="#111" stroke-width="1.6"/><line x1="681.0" y1="2307.6" x2="681.0" y2="2314.6" stroke="#111" stroke-width="1.6"/><line x1="683.8" y1="2307.6" x2="683.8" y2="2321.6" stroke="#111" stroke-width="1.6"/><line x1="702.2" y1="2307.6" x2="702.2" y2="2314.6" stroke="#111" stroke-width="1.6"/><line x1="713.0" y1="2307.6" x2="713.0" y2="2314.6" stroke="#111" stroke-width="1.6"/><line x1="720.6" y1="2307.6" x2="720.6" y2="2314.6" stroke="#111" stroke-width="1.6"/><line x1="726.6" y1="2307.6" x2="726.6" y2="2314.6" stroke="#111" stroke-width="1.6"/><line x1="731.4" y1="2307.6" x2="731.4" y2="2314.6" stroke="#111" stroke-width="1.6"/><line x1="735.5" y1="2307.6" x2="735.5" y2="2314.6" stroke="#111" stroke-width="1.6"/><line x1="739.1" y1="2307.6" x2="739.1" y2="2314.6" stroke="#111" stroke-width="1.6"/><line x1="742.2" y1="2307.6" x2="742.2" y2="2314.6" stroke="#111" stroke-width="1.6"/><line x1="745.0" y1="2307.6" x2="745.0" y2="2321.6" stroke="#111" stroke-width="1.6"/><line x1="762.8" y1="2307.6" x2="762.8" y2="2314.6" stroke="#111" stroke-width="1.6"/><line x1="773.2" y1="2307.6" x2="773.2" y2="2314.6" stroke="#111" stroke-width="1.6"/><line x1="780.5" y1="2307.6" x2="780.5" y2="2314.6" stroke="#111" stroke-width="1.6"/><line x1="786.2" y1="2307.6" x2="786.2" y2="2314.6" stroke="#111" stroke-width="1.6"/><line x1="790.9" y1="2307.6" x2="790.9" y2="2314.6" stroke="#111" stroke-width="1.6"/><line x1="794.9" y1="2307.6" x2="794.9" y2="2314.6" stroke="#111" stroke-width="1.6"/><line x1="798.3" y1="2307.6" x2="798.3" y2="2314.6" stroke="#111" stroke-width="1.6"/><line x1="801.3" y1="2307.6" x2="801.3" y2="2314.6" stroke="#111" stroke-width="1.6"/><line x1="804.0" y1="2307.6" x2="804.0" y2="2321.6" stroke="#111" stroke-width="1.6"/>
<text x="573.5" y="2103" font-size="23.2" text-anchor="start" fill="#1c1c28" class="mono" transform="translate(573.5,2103) scale(1.045,1.1) translate(-573.5,-2103)">0.344%</text>
<text x="822" y="2103" font-size="23.2" text-anchor="end" fill="#1c1c28" class="mono" transform="translate(822,2103) scale(1.045,1.1) translate(-822,-2103)">0.00%</text>
<text x="573.5" y="2302.7" font-size="23.2" text-anchor="start" fill="#1c1c28" class="mono" transform="translate(573.5,2302.7) scale(1.045,1.1) translate(-573.5,-2302.7)">99.7%</text>
<text x="822" y="2302.7" font-size="23.2" text-anchor="end" fill="#1c1c28" class="mono" transform="translate(822,2302.7) scale(1.045,1.1) translate(-822,-2302.7)">0.00%</text>
<line x1="539.8" y1="2327.2" x2="543" y2="1863.1" stroke="#000" stroke-width="2"/>
<path d="M543,1845.6 L553,1865.1 L533,1865.1Z" fill="#000"/>
<line x1="539.8" y1="2327.2" x2="830.7" y2="2331.3" stroke="#000" stroke-width="2"/>
<path d="M848.2,2331.3 L828.7,2321.3 L828.7,2341.3Z" fill="#000"/>
<text x="0" y="0" font-size="28" text-anchor="middle" transform="translate(528,2085.3) rotate(-90)">CD86</text>
<text x="693.7" y="2363.9" font-size="28" text-anchor="middle" fill="#000" >MHC II</text>
<text x="0.0" y="622.6" font-size="40" text-anchor="start" fill="#000" font-weight="bold" >c</text>
<text x="149.4" y="634.0" font-size="29.3" text-anchor="middle" fill="#000" >DAPI</text>
<text x="364.8" y="634.0" font-size="29.3" text-anchor="middle" fill="#000" >Dox</text>
<text x="581.2" y="634.5" font-size="29.3" text-anchor="middle" fill="#000" >Merge</text>
<clipPath id="c11"><rect x="42.4" y="648.4" width="212.7" height="213.0"/></clipPath>
<g clip-path="url(#c11)">
<rect x="42.4" y="648.4" width="212.7" height="213.0" fill="#322c9c"/>
<g filter="url(#mblur)">
<polygon points="133.9,674.0 148.8,669.7 153.0,733.6 148.8,776.2 161.5,814.5 153.0,818.8 140.2,776.2 138.1,722.9" fill="#201a6a" />
<polygon points="106.2,637.8 131.7,637.8 140.2,754.9 131.7,808.1 106.2,776.2" fill="#3632a8" />
<polygon points="159.4,733.6 223.2,744.2 233.8,786.9 170.0,786.9" fill="#3838ae" />
<polygon points="31.8,776.8 62.0,784.3 77.1,794.7 90.5,806.9 102.4,821.8 114.3,838.2 123.2,851.6 129.2,872.0 31.8,872.0" fill="#1c1450" />
<polygon points="31.8,637.8 115.8,637.8 114.9,675.0 111.3,694.6 102.4,720.0 93.4,731.9 84.5,748.3 69.6,758.9 54.5,763.4 31.8,764.9" fill="#0f0a28" />
</g>
<rect x="42.4" y="648.4" width="212.7" height="213.0" fill="#070418" filter="url(#texC)" opacity="0.45"/>
<rect x="42.4" y="648.4" width="212.7" height="213.0" fill="#070418" filter="url(#tex)" opacity="1.0"/>

<polyline points="113.0,710.2 114.1,732.5 120.2,757.0 130.5,779.4 142.6,797.7 160.9,818.2 175.3,838.6 187.5,861.0" fill="none" stroke="#fff" stroke-width="4.6" stroke-dasharray="4.6 4.4" stroke-linecap="butt" stroke-linejoin="round"/>
</g>
<clipPath id="c12"><rect x="257.6" y="648.4" width="213.0" height="213.0"/></clipPath>
<g clip-path="url(#c12)">
<rect x="257.6" y="648.4" width="213.0" height="213.0" fill="#2e0604"/>
<g filter="url(#mblur)">
<polygon points="419.5,637.8 481.2,637.8 481.2,872.0 419.5,872.0" fill="#100101" />
<polygon points="419.5,808.1 481.2,808.1 481.2,872.0 419.5,872.0" fill="#2e0705" />
<polygon points="344.5,637.8 359.4,669.7 364.1,708.0 368.4,728.9 368.4,756.0 404.1,779.8 417.6,809.9 419.1,872.0 398.2,872.0 385.4,818.8 364.1,786.9 353.5,754.9 351.3,722.9 347.1,691.0" fill="#761a0e" />
<polygon points="331.1,637.8 344.5,637.8 347.1,691.0 351.3,722.9 353.5,754.9 364.1,786.9 385.4,818.8 398.2,872.0 344.5,872.0 338.5,851.6 329.6,838.2 317.7,821.8 305.7,806.9 292.3,794.7 277.2,784.3 247.0,776.8 330.2,675.0 326.6,694.6 317.7,720.0 308.7,731.9 299.8,748.3 284.9,758.9 269.7,763.4 247.0,764.9" fill="#d22c1c" />
<polygon points="247.0,764.9 269.7,763.4 284.9,758.9 299.8,748.3 310.9,737.9 321.5,754.9 321.5,797.5 317.7,821.8 305.7,806.9 292.3,794.7 277.2,784.3 247.0,776.8" fill="#e23424" />
<polygon points="349.2,674.0 364.1,669.7 368.4,733.6 364.1,776.2 376.9,814.5 368.4,818.8 355.6,776.2 353.5,722.9" fill="#520c07" />
<polygon points="247.0,776.8 277.2,784.3 292.3,794.7 305.7,806.9 317.7,821.8 329.6,838.2 338.5,851.6 344.5,872.0 247.0,872.0" fill="#360806" />
<polygon points="247.0,637.8 331.1,637.8 330.2,675.0 326.6,694.6 317.7,720.0 308.7,731.9 299.8,748.3 284.9,758.9 269.7,763.4 247.0,764.9" fill="#090000" />
</g>
<rect x="257.6" y="648.4" width="213.0" height="213.0" fill="#000" filter="url(#texC)" opacity="0.45"/>
<rect x="257.6" y="648.4" width="213.0" height="213.0" fill="#000" filter="url(#tex)" opacity="1.0"/>

<polyline points="326.6,709.5 327.3,728.9 331.1,749.8 338.5,767.9 347.5,784.3 359.4,802.2 374.3,824.8 389.2,842.7 400.5,859.1" fill="none" stroke="#fff" stroke-width="4.6" stroke-dasharray="4.6 4.4" stroke-linecap="butt" stroke-linejoin="round"/>
</g>
<clipPath id="c13"><rect x="474.7" y="648.4" width="212.8" height="213.0"/></clipPath>
<g clip-path="url(#c13)">
<rect x="474.7" y="648.4" width="212.8" height="213.0" fill="#322a9c"/>
<g filter="url(#mblur)">
<polygon points="636.4,637.8 698.1,637.8 698.1,872.0 636.4,872.0" fill="#322a9a" />
<polygon points="561.5,637.8 576.4,669.7 581.1,708.0 585.4,728.9 585.4,756.0 621.1,779.8 634.5,809.9 636.0,872.0 615.1,872.0 602.4,818.8 581.1,786.9 570.5,754.9 568.3,722.9 564.1,691.0" fill="#6e2278" />
<polygon points="548.1,637.8 561.5,637.8 564.1,691.0 568.3,722.9 570.5,754.9 581.1,786.9 602.4,818.8 615.1,872.0 561.5,872.0 555.6,851.6 546.6,838.2 534.7,821.8 522.8,806.9 509.4,794.7 494.3,784.3 464.1,776.8 547.3,675.0 543.6,694.6 534.7,720.0 525.8,731.9 516.8,748.3 501.9,758.9 486.8,763.4 464.1,764.9" fill="#c22658" />
<polygon points="464.1,764.9 486.8,763.4 501.9,758.9 516.8,748.3 527.9,737.9 538.5,754.9 538.5,797.5 534.7,821.8 522.8,806.9 509.4,794.7 494.3,784.3 464.1,776.8" fill="#d22c62" />
<polygon points="566.2,674.0 581.1,669.7 585.4,733.6 581.1,776.2 593.9,814.5 585.4,818.8 572.6,776.2 570.5,722.9" fill="#341248" />
<polygon points="464.1,776.8 494.3,784.3 509.4,794.7 522.8,806.9 534.7,821.8 546.6,838.2 555.6,851.6 561.5,872.0 464.1,872.0" fill="#301652" />
<polygon points="464.1,637.8 548.1,637.8 547.3,675.0 543.6,694.6 534.7,720.0 525.8,731.9 516.8,748.3 501.9,758.9 486.8,763.4 464.1,764.9" fill="#100418" />
</g>
<rect x="474.7" y="648.4" width="212.8" height="213.0" fill="#08030f" filter="url(#texC)" opacity="0.45"/>
<rect x="474.7" y="648.4" width="212.8" height="213.0" fill="#08030f" filter="url(#tex)" opacity="1.0"/>

<polyline points="541.3,709.5 542.2,728.9 546.6,752.8 555.6,772.4 564.5,787.3 576.4,802.2 591.3,821.8 603.2,838.2 615.1,859.1" fill="none" stroke="#fff" stroke-width="4.6" stroke-dasharray="4.6 4.4" stroke-linecap="butt" stroke-linejoin="round"/>
<rect x="658" y="850" width="20" height="5.4" fill="#fff"/>
</g>
<clipPath id="c21"><rect x="42.4" y="864.7" width="212.7" height="214.3"/></clipPath>
<g clip-path="url(#c21)">
<rect x="42.4" y="864.7" width="212.7" height="214.3" fill="#04030e"/>
<g filter="url(#mblur)">
<polygon points="31.8,854.0 87.7,854.0 97.7,890.8 95.8,917.2 85.6,955.8 71.3,1002.7 57.1,1039.4 43.9,1069.8 31.8,1070.4" fill="#1c1652" />
<polygon points="107.9,854.0 265.7,854.0 265.7,1061.6 226.2,1057.6 224.0,1045.4 203.8,1033.1 173.2,1016.9 142.6,996.5 122.2,962.0 110.0,931.3 107.9,890.8" fill="#302896" />
</g>
<rect x="42.4" y="864.7" width="212.7" height="214.3" fill="#070418" filter="url(#texC)" opacity="0.45"/>
<rect x="42.4" y="864.7" width="212.7" height="214.3" fill="#070418" filter="url(#tex)" opacity="1.0"/>

<polyline points="87.7,870.5 103.9,892.8 95.8,917.2 85.6,955.8 71.3,1002.7 57.1,1039.4 43.9,1069.8" fill="none" stroke="#fff" stroke-width="4.6" stroke-dasharray="4.6 4.4" stroke-linecap="butt" stroke-linejoin="round"/>
</g>
<clipPath id="c22"><rect x="257.6" y="864.7" width="213.0" height="214.3"/></clipPath>
<g clip-path="url(#c22)">
<rect x="257.6" y="864.7" width="213.0" height="214.3" fill="#050000"/>
<g filter="url(#mblur)">
<polygon points="247.0,854.0 321.5,854.0 334.3,899.0 327.9,929.0 317.2,971.9 300.2,1014.7 285.3,1053.3 276.8,1089.7 247.0,1089.7" fill="#881a12" />
<polygon points="300.2,950.4 321.5,961.1 300.2,1014.7 285.3,1053.3 276.8,1089.7 247.0,1089.7 268.2,1036.1 283.2,993.3" fill="#c82a1a" />
<polygon points="339.2,854.0 481.2,854.0 481.2,1061.0 462.3,1052.2 432.7,1031.2 385.2,1001.4 355.6,977.4 340.7,932.8" fill="#200403" />
<polyline points="340.7,932.8 355.6,977.4 385.2,1001.4 432.7,1031.2 462.3,1052.2 470.6,1061.0" fill="none" stroke="#7a140a" stroke-width="3" stroke-dasharray="none" stroke-linecap="butt" stroke-linejoin="round"/>
</g>
<rect x="257.6" y="864.7" width="213.0" height="214.3" fill="#000" filter="url(#texC)" opacity="0.45"/>
<rect x="257.6" y="864.7" width="213.0" height="214.3" fill="#000" filter="url(#tex)" opacity="1.0"/>

<polyline points="318.5,882.1 334.7,904.3 322.8,953.6 305.1,1007.4 290.2,1043.2 278.3,1077.5" fill="none" stroke="#fff" stroke-width="4.6" stroke-dasharray="4.6 4.4" stroke-linecap="butt" stroke-linejoin="round"/>
</g>
<clipPath id="c23"><rect x="474.7" y="864.7" width="212.8" height="214.3"/></clipPath>
<g clip-path="url(#c23)">
<rect x="474.7" y="864.7" width="212.8" height="214.3" fill="#06020a"/>
<g filter="url(#mblur)">
<polygon points="464.1,854.0 530.0,854.0 547.1,901.1 538.5,950.4 517.3,1014.7 498.1,1057.6 489.6,1089.7 464.1,1089.7" fill="#8c1a48" />
<polygon points="513.0,950.4 538.5,954.7 517.3,1014.7 498.1,1057.6 489.6,1089.7 464.1,1089.7 483.2,1036.1 496.0,993.3" fill="#c4264e" />
<polygon points="550.9,854.0 698.1,854.0 698.1,1061.0 653.0,1049.2 651.5,1037.2 589.4,1001.4 571.7,977.4 553.9,932.8" fill="#302898" />
</g>
<rect x="474.7" y="864.7" width="212.8" height="214.3" fill="#08030f" filter="url(#texC)" opacity="0.45"/>
<rect x="474.7" y="864.7" width="212.8" height="214.3" fill="#08030f" filter="url(#tex)" opacity="1.0"/>

<polyline points="530.2,880.6 547.9,902.8 536.2,956.6 515.6,1013.4 500.7,1049.2 490.4,1077.5" fill="none" stroke="#fff" stroke-width="4.6" stroke-dasharray="4.6 4.4" stroke-linecap="butt" stroke-linejoin="round"/>
<rect x="659.8" y="1066.9" width="19.2" height="4.6" fill="#fff"/>
</g>
<clipPath id="c31"><rect x="42.4" y="1083.2" width="212.7" height="212.6"/></clipPath>
<g clip-path="url(#c31)">
<rect x="42.4" y="1083.2" width="212.7" height="212.6" fill="#14123e"/>
<g filter="url(#mblur)">
<polygon points="129.8,1114.2 149.2,1109.8 153.6,1099.4 177.5,1093.4 204.3,1102.3 234.3,1118.7 252.1,1133.6 253.6,1142.7 240.2,1147.2 231.3,1163.8 210.2,1189.1 198.3,1196.5 174.5,1196.5 159.6,1177.0 137.3,1163.6 123.9,1148.7 123.9,1129.1" fill="#2e30a2" />
<polygon points="44.7,1181.4 70.1,1169.5 107.3,1169.5 137.3,1175.7 159.6,1184.4 170.0,1199.5 170.0,1229.5 162.6,1251.8 144.7,1257.7 129.8,1263.7 114.7,1260.7 84.9,1248.8 62.6,1229.3 47.7,1206.9" fill="#2c36a8" />
<polygon points="170.0,1199.5 181.9,1196.5 204.3,1202.5 231.3,1214.4 234.3,1229.3 240.2,1251.8 232.8,1284.5 204.3,1287.5 181.9,1284.5 170.0,1266.7 162.6,1253.3 167.0,1236.9" fill="#2e34a6" />
<ellipse cx="114.7" cy="1217.1" rx="42.5" ry="29.8" fill="#221e70" filter="url(#mblur12)"/>
</g>
<rect x="42.4" y="1083.2" width="212.7" height="212.6" fill="#070418" filter="url(#texC)" opacity="0.36"/>
<rect x="42.4" y="1083.2" width="212.7" height="212.6" fill="#070418" filter="url(#tex)" opacity="0.8"/>

<polyline points="90.9,1157.6 122.2,1166.5 159.6,1178.4 168.5,1199.5 170.0,1229.5 163.2,1254.8" fill="none" stroke="#fff" stroke-width="4.8" stroke-dasharray="8.5 4.5" stroke-linecap="butt" stroke-linejoin="round"/>
</g>
<clipPath id="c32"><rect x="257.6" y="1083.2" width="213.0" height="212.6"/></clipPath>
<g clip-path="url(#c32)">
<rect x="257.6" y="1083.2" width="213.0" height="212.6" fill="#040000"/>
<g filter="url(#mblur)">
<polygon points="261.6,1171.2 269.7,1165.3 292.3,1157.0 307.2,1158.5 329.6,1159.9 352.0,1164.4 374.3,1173.6 384.8,1185.5 386.3,1207.8 384.8,1230.1 378.8,1249.5 359.4,1255.6 341.5,1266.0 322.1,1260.1 299.8,1245.0 277.2,1225.6 263.8,1200.3" fill="url(#gL3x)" />
<polyline points="339.2,1147.0 339.2,1115.1 347.1,1098.1 357.7,1096.0" fill="none" stroke="#4a0c06" stroke-width="4" stroke-dasharray="none" stroke-linecap="butt" stroke-linejoin="round"/>
<polyline points="389.7,1263.9 398.2,1280.9 419.5,1287.3 445.0,1285.2" fill="none" stroke="#2a0604" stroke-width="3" stroke-dasharray="none" stroke-linecap="butt" stroke-linejoin="round"/>
</g>
<rect x="257.6" y="1083.2" width="213.0" height="212.6" fill="#000" filter="url(#texC)" opacity="0.41"/>
<rect x="257.6" y="1083.2" width="213.0" height="212.6" fill="#000" filter="url(#tex)" opacity="0.9"/>

<polyline points="307.2,1154.0 335.6,1160.8 356.6,1167.4 375.8,1174.2 384.8,1191.4 386.3,1215.2 384.8,1230.1 380.3,1250.9" fill="none" stroke="#fff" stroke-width="4.8" stroke-dasharray="8.5 4.5" stroke-linecap="butt" stroke-linejoin="round"/>
</g>
<clipPath id="c33"><rect x="474.7" y="1083.2" width="212.8" height="212.6"/></clipPath>
<g clip-path="url(#c33)">
<rect x="474.7" y="1083.2" width="212.8" height="212.6" fill="#120a2a"/>
<g filter="url(#mblur)">
<polygon points="561.3,1110.8 585.1,1104.9 588.1,1097.4 613.7,1087.7 643.5,1094.5 665.8,1109.3 674.7,1128.9 686.6,1131.9 686.6,1139.3 677.7,1145.3 665.8,1169.3 647.9,1187.2 633.0,1194.8 615.1,1193.3 598.5,1181.2 576.2,1167.8 564.3,1157.4 555.4,1145.3 559.8,1124.4" fill="#302ea2" />
<polygon points="606.2,1202.3 621.1,1196.3 643.5,1202.3 668.8,1217.1 674.7,1236.7 679.2,1259.0 670.3,1289.0 636.0,1293.5 613.7,1281.6 603.2,1259.0 603.2,1229.3" fill="#3030a6" />
<polygon points="477.0,1178.2 501.5,1167.8 524.1,1167.8 561.3,1172.3 588.1,1176.7 601.7,1187.2 604.7,1206.7 603.2,1229.3 600.0,1253.1 588.1,1254.6 568.8,1262.2 558.3,1271.1 539.0,1265.2 516.4,1251.6 494.1,1232.2 479.2,1206.7" fill="url(#gL3m)" />
</g>
<rect x="474.7" y="1083.2" width="212.8" height="212.6" fill="#08030f" filter="url(#texC)" opacity="0.36"/>
<rect x="474.7" y="1083.2" width="212.8" height="212.6" fill="#08030f" filter="url(#tex)" opacity="0.8"/>

<polyline points="526.2,1160.4 555.4,1167.0 576.2,1170.8 595.6,1179.7 603.2,1194.8 604.7,1214.2 603.2,1236.7 598.5,1256.0" fill="none" stroke="#fff" stroke-width="4.8" stroke-dasharray="8.5 4.5" stroke-linecap="butt" stroke-linejoin="round"/>
<rect x="661.8" y="1282.5" width="20.2" height="5.3" fill="#fff"/>
</g>
<text x="0" y="0" font-size="29" text-anchor="middle" transform="translate(30.5,767) rotate(-90)">Dox-iRGD</text>
<text x="0" y="0" font-size="29" text-anchor="middle" transform="translate(30.5,973.3) rotate(-90)">Dox-iRDG</text>
<text x="0" y="0" font-size="29" text-anchor="middle" transform="translate(30.5,1188) rotate(-90)">Dox</text>
<text x="54.0" y="685.4" font-size="23.5" text-anchor="start" fill="#fff" >Gel</text>
<text x="239.5" y="685.4" font-size="23.5" text-anchor="end" fill="#fff" >Tumor</text>
<text x="45.9" y="893.8" font-size="23.5" text-anchor="start" fill="#fff" >Gel</text>
<text x="161.0" y="897.0" font-size="23.5" text-anchor="start" fill="#fff" >Tumor</text>
<text x="52.0" y="1280.3" font-size="23.5" text-anchor="start" fill="#fff" >Gel</text>
<text x="174.5" y="1284.8" font-size="23.5" text-anchor="start" fill="#fff" >Tumor</text>
<text x="0.0" y="1374.5" font-size="40" text-anchor="start" fill="#000" font-weight="bold" >e</text>
<text x="113.9" y="1449.4" font-size="30" text-anchor="middle" fill="#000" >DAPI</text>
<text x="342.4" y="1449.4" font-size="30" text-anchor="middle" fill="#000" >TUNEL</text>
<text x="569.5" y="1449.6" font-size="30" text-anchor="middle" fill="#000" >Merge</text>
<clipPath id="e1"><rect x="1.25" y="1463.9" width="224.05" height="224.0"/></clipPath>
<g clip-path="url(#e1)">
<rect x="1.25" y="1463.9" width="224.05" height="224.0" fill="#1c1648"/>
<g>
<g filter="url(#nuc0)"><polygon points="12.5,1452.7 236.5,1452.7 236.5,1631.9 191.7,1616.2 158.1,1602.8 124.5,1587.1 90.9,1564.7 64.0,1549.0 34.9,1531.1 19.2,1508.7" fill="#3e46b6" /></g>
<g filter="url(#nuc1)"><polygon points="-10.0,1598.3 41.6,1598.3 68.5,1625.2 50.5,1665.5 -10.0,1656.5" fill="#3c44b2" /></g>
<g filter="url(#nuc2)"><polygon points="-10.0,1452.7 236.5,1452.7 236.5,1699.1 -10.0,1699.1" fill="#3a42ae" /></g>
</g>
<rect x="202" y="1676.8" width="15" height="4.8" fill="#fff"/>
</g>
<clipPath id="e2"><rect x="229.0" y="1463.9" width="224.4" height="224.0"/></clipPath>
<g clip-path="url(#e2)">
<rect x="229.0" y="1463.9" width="224.4" height="224.0" fill="#190503"/>
<g>
<g filter="url(#mblur12)"><polygon points="217.8,1490.8 255.9,1486.3 296.3,1531.1 352.4,1575.9 408.5,1609.5 464.6,1625.2 464.6,1699.1 217.8,1699.1" fill="#2e0805" /></g>
<g filter="url(#nuc3)"><polygon points="217.8,1531.1 251.4,1519.9 307.5,1564.7 363.6,1602.8 397.3,1654.3 363.6,1699.1 217.8,1699.1" fill="#e23a1a" /></g>
<g filter="url(#nuc4)"><polygon points="217.8,1490.8 255.9,1486.3 296.3,1531.1 352.4,1575.9 408.5,1609.5 464.6,1625.2 464.6,1699.1 217.8,1699.1" fill="#c83016" /></g>
</g>
<rect x="229.0" y="1463.9" width="224.4" height="224.0" fill="#000" filter="url(#texC)" opacity="0.16"/>
<rect x="229.0" y="1463.9" width="224.4" height="224.0" fill="#000" filter="url(#tex)" opacity="0.35"/>
<rect x="433.6" y="1676.8" width="15" height="4.8" fill="#fff"/>
</g>
<clipPath id="e3"><rect x="457.2" y="1463.9" width="225.0" height="224.0"/></clipPath>
<g clip-path="url(#e3)">
<rect x="457.2" y="1463.9" width="225.0" height="224.0" fill="#1e1244"/>
<g>
<g filter="url(#mblur12)"><polygon points="445.9,1490.8 484.2,1486.3 524.7,1531.1 581.0,1575.9 637.2,1609.5 693.5,1625.2 693.5,1699.1 445.9,1699.1" fill="#2a1040" /></g>
<g filter="url(#nuc0)"><polygon points="468.4,1452.7 693.5,1452.7 693.5,1631.9 648.5,1616.2 614.7,1602.8 581.0,1587.1 547.2,1564.7 520.2,1549.0 490.9,1531.1 475.2,1508.7" fill="#4044c0" /></g>
<g filter="url(#nuc2)"><polygon points="445.9,1452.7 693.5,1452.7 693.5,1699.1 445.9,1699.1" fill="#4a3cb8" /></g>
<g filter="url(#nuc3)"><polygon points="445.9,1531.1 479.7,1519.9 536.0,1564.7 592.2,1602.8 626.0,1654.3 592.2,1699.1 445.9,1699.1" fill="#c8286a" /></g>
<g filter="url(#nuc4)"><polygon points="445.9,1490.8 484.2,1486.3 524.7,1531.1 581.0,1575.9 637.2,1609.5 693.5,1625.2 693.5,1699.1 445.9,1699.1" fill="#b82860" /></g>
</g>
<rect x="654.2" y="1677" width="15.7" height="5" fill="#fff"/>
</g>
<clipPath id="e4"><rect x="686.2" y="1463.9" width="224.9" height="224.0"/></clipPath>
<g clip-path="url(#e4)">
<rect x="686.2" y="1463.9" width="224.9" height="224.0" fill="#020104"/>
<g>
<g fill="#3a3cc4"><ellipse cx="830.0" cy="1469.5" rx="5.4" ry="4.0" transform="rotate(140 830.0 1469.5)"/><ellipse cx="851.8" cy="1615.5" rx="6.8" ry="4.7" transform="rotate(96 851.8 1615.5)"/><ellipse cx="735.4" cy="1577.1" rx="4.9" ry="3.4" transform="rotate(47 735.4 1577.1)"/><ellipse cx="832.4" cy="1586.0" rx="5.3" ry="3.8" transform="rotate(90 832.4 1586.0)"/><ellipse cx="868.2" cy="1465.4" rx="6.6" ry="4.1" transform="rotate(177 868.2 1465.4)"/><ellipse cx="901.5" cy="1539.3" rx="5.0" ry="3.6" transform="rotate(151 901.5 1539.3)"/><ellipse cx="876.8" cy="1599.1" rx="6.6" ry="5.4" transform="rotate(67 876.8 1599.1)"/><ellipse cx="806.8" cy="1681.9" rx="5.6" ry="4.0" transform="rotate(101 806.8 1681.9)"/><ellipse cx="844.7" cy="1474.2" rx="5.3" ry="3.5" transform="rotate(26 844.7 1474.2)"/><ellipse cx="829.2" cy="1545.6" rx="5.6" ry="3.7" transform="rotate(168 829.2 1545.6)"/><ellipse cx="831.9" cy="1600.3" rx="5.2" ry="3.9" transform="rotate(75 831.9 1600.3)"/><ellipse cx="722.9" cy="1548.9" rx="7.0" ry="4.5" transform="rotate(59 722.9 1548.9)"/><ellipse cx="875.8" cy="1637.7" rx="5.3" ry="3.7" transform="rotate(150 875.8 1637.7)"/><ellipse cx="883.3" cy="1534.4" rx="6.2" ry="4.5" transform="rotate(118 883.3 1534.4)"/><ellipse cx="891.9" cy="1566.7" rx="5.4" ry="4.2" transform="rotate(46 891.9 1566.7)"/><ellipse cx="812.5" cy="1522.8" rx="6.1" ry="4.9" transform="rotate(174 812.5 1522.8)"/><ellipse cx="776.0" cy="1513.0" rx="7.0" ry="5.3" transform="rotate(88 776.0 1513.0)"/><ellipse cx="864.3" cy="1558.5" rx="4.9" ry="3.2" transform="rotate(143 864.3 1558.5)"/><ellipse cx="910.2" cy="1582.4" rx="6.9" ry="4.5" transform="rotate(130 910.2 1582.4)"/><ellipse cx="788.2" cy="1677.6" rx="6.7" ry="4.9" transform="rotate(165 788.2 1677.6)"/><ellipse cx="798.8" cy="1503.9" rx="6.8" ry="5.0" transform="rotate(116 798.8 1503.9)"/><ellipse cx="753.3" cy="1607.0" rx="6.1" ry="3.8" transform="rotate(6 753.3 1607.0)"/><ellipse cx="857.7" cy="1584.7" rx="6.5" ry="5.3" transform="rotate(170 857.7 1584.7)"/><ellipse cx="883.8" cy="1650.2" rx="5.5" ry="4.2" transform="rotate(138 883.8 1650.2)"/><ellipse cx="883.7" cy="1676.0" rx="5.0" ry="3.5" transform="rotate(152 883.7 1676.0)"/><ellipse cx="858.4" cy="1492.7" rx="5.8" ry="3.8" transform="rotate(127 858.4 1492.7)"/><ellipse cx="910.0" cy="1609.5" rx="5.8" ry="3.5" transform="rotate(91 910.0 1609.5)"/><ellipse cx="762.2" cy="1595.7" rx="5.3" ry="3.7" transform="rotate(111 762.2 1595.7)"/><ellipse cx="879.5" cy="1479.8" rx="5.3" ry="4.1" transform="rotate(111 879.5 1479.8)"/><ellipse cx="896.6" cy="1591.8" rx="5.8" ry="4.2" transform="rotate(88 896.6 1591.8)"/><ellipse cx="867.8" cy="1506.6" rx="5.0" ry="3.0" transform="rotate(99 867.8 1506.6)"/><ellipse cx="781.5" cy="1568.5" rx="6.4" ry="3.9" transform="rotate(95 781.5 1568.5)"/><ellipse cx="907.5" cy="1485.9" rx="5.7" ry="3.8" transform="rotate(176 907.5 1485.9)"/><ellipse cx="880.0" cy="1519.6" rx="5.2" ry="3.2" transform="rotate(146 880.0 1519.6)"/><ellipse cx="781.1" cy="1526.3" rx="5.3" ry="4.1" transform="rotate(145 781.1 1526.3)"/><ellipse cx="785.9" cy="1656.8" rx="6.0" ry="5.0" transform="rotate(19 785.9 1656.8)"/><ellipse cx="910.9" cy="1651.2" rx="6.9" ry="4.3" transform="rotate(27 910.9 1651.2)"/><ellipse cx="877.1" cy="1501.2" rx="5.9" ry="3.8" transform="rotate(95 877.1 1501.2)"/><ellipse cx="771.4" cy="1684.6" rx="5.4" ry="4.3" transform="rotate(48 771.4 1684.6)"/><ellipse cx="799.3" cy="1654.9" rx="5.1" ry="3.6" transform="rotate(67 799.3 1654.9)"/><ellipse cx="780.5" cy="1594.6" rx="6.0" ry="4.2" transform="rotate(102 780.5 1594.6)"/><ellipse cx="732.1" cy="1624.3" rx="5.3" ry="4.5" transform="rotate(41 732.1 1624.3)"/><ellipse cx="837.3" cy="1531.1" rx="5.5" ry="4.2" transform="rotate(153 837.3 1531.1)"/><ellipse cx="910.8" cy="1687.0" rx="5.0" ry="3.8" transform="rotate(154 910.8 1687.0)"/><ellipse cx="884.3" cy="1660.9" rx="5.6" ry="4.4" transform="rotate(17 884.3 1660.9)"/><ellipse cx="873.7" cy="1621.5" rx="6.1" ry="4.3" transform="rotate(99 873.7 1621.5)"/><ellipse cx="835.4" cy="1674.2" rx="5.1" ry="3.1" transform="rotate(2 835.4 1674.2)"/><ellipse cx="828.8" cy="1523.0" rx="5.9" ry="3.8" transform="rotate(90 828.8 1523.0)"/><ellipse cx="755.5" cy="1665.3" rx="6.6" ry="4.6" transform="rotate(141 755.5 1665.3)"/><ellipse cx="888.4" cy="1511.0" rx="5.3" ry="4.0" transform="rotate(154 888.4 1511.0)"/><ellipse cx="861.6" cy="1661.9" rx="5.7" ry="3.6" transform="rotate(95 861.6 1661.9)"/><ellipse cx="868.5" cy="1523.7" rx="6.5" ry="4.0" transform="rotate(38 868.5 1523.7)"/><ellipse cx="902.7" cy="1523.4" rx="5.0" ry="4.1" transform="rotate(160 902.7 1523.4)"/><ellipse cx="850.0" cy="1534.2" rx="6.1" ry="4.4" transform="rotate(8 850.0 1534.2)"/><ellipse cx="897.7" cy="1615.6" rx="6.8" ry="4.2" transform="rotate(167 897.7 1615.6)"/><ellipse cx="753.9" cy="1586.6" rx="4.8" ry="4.0" transform="rotate(101 753.9 1586.6)"/><ellipse cx="837.5" cy="1514.2" rx="5.2" ry="3.2" transform="rotate(167 837.5 1514.2)"/><ellipse cx="797.4" cy="1518.6" rx="6.2" ry="4.2" transform="rotate(173 797.4 1518.6)"/><ellipse cx="855.1" cy="1636.4" rx="5.0" ry="3.8" transform="rotate(135 855.1 1636.4)"/><ellipse cx="802.7" cy="1475.1" rx="5.3" ry="4.2" transform="rotate(72 802.7 1475.1)"/><ellipse cx="788.9" cy="1643.4" rx="6.3" ry="3.9" transform="rotate(29 788.9 1643.4)"/><ellipse cx="820.1" cy="1676.7" rx="6.8" ry="4.5" transform="rotate(150 820.1 1676.7)"/><ellipse cx="888.0" cy="1630.5" rx="5.8" ry="4.1" transform="rotate(161 888.0 1630.5)"/><ellipse cx="807.7" cy="1494.9" rx="5.3" ry="3.6" transform="rotate(136 807.7 1494.9)"/><ellipse cx="765.3" cy="1632.7" rx="6.7" ry="4.2" transform="rotate(178 765.3 1632.7)"/><ellipse cx="780.4" cy="1631.3" rx="6.0" ry="4.7" transform="rotate(90 780.4 1631.3)"/><ellipse cx="761.8" cy="1616.0" rx="5.7" ry="4.8" transform="rotate(10 761.8 1616.0)"/><ellipse cx="791.3" cy="1492.5" rx="6.2" ry="4.4" transform="rotate(151 791.3 1492.5)"/><ellipse cx="857.4" cy="1548.8" rx="6.5" ry="4.4" transform="rotate(138 857.4 1548.8)"/><ellipse cx="832.8" cy="1632.8" rx="6.9" ry="5.8" transform="rotate(71 832.8 1632.8)"/><ellipse cx="723.9" cy="1599.9" rx="6.4" ry="5.1" transform="rotate(5 723.9 1599.9)"/><ellipse cx="870.5" cy="1680.0" rx="5.0" ry="3.4" transform="rotate(179 870.5 1680.0)"/><ellipse cx="800.0" cy="1540.3" rx="6.7" ry="4.8" transform="rotate(64 800.0 1540.3)"/><ellipse cx="829.1" cy="1649.5" rx="6.4" ry="5.3" transform="rotate(78 829.1 1649.5)"/><ellipse cx="851.2" cy="1680.2" rx="5.4" ry="4.2" transform="rotate(119 851.2 1680.2)"/><ellipse cx="807.2" cy="1572.2" rx="5.8" ry="3.6" transform="rotate(111 807.2 1572.2)"/><ellipse cx="841.5" cy="1608.6" rx="5.9" ry="4.7" transform="rotate(128 841.5 1608.6)"/><ellipse cx="805.6" cy="1559.2" rx="6.4" ry="4.0" transform="rotate(28 805.6 1559.2)"/><ellipse cx="843.0" cy="1492.2" rx="6.7" ry="5.2" transform="rotate(114 843.0 1492.2)"/><ellipse cx="858.1" cy="1599.7" rx="6.5" ry="5.1" transform="rotate(57 858.1 1599.7)"/><ellipse cx="844.3" cy="1565.6" rx="6.3" ry="4.0" transform="rotate(1 844.3 1565.6)"/><ellipse cx="869.2" cy="1587.1" rx="5.8" ry="3.9" transform="rotate(65 869.2 1587.1)"/><ellipse cx="758.9" cy="1681.2" rx="5.7" ry="3.8" transform="rotate(24 758.9 1681.2)"/><ellipse cx="857.1" cy="1509.5" rx="6.0" ry="3.9" transform="rotate(81 857.1 1509.5)"/><ellipse cx="784.7" cy="1620.3" rx="5.1" ry="3.7" transform="rotate(73 784.7 1620.3)"/><ellipse cx="847.4" cy="1577.9" rx="5.4" ry="3.3" transform="rotate(64 847.4 1577.9)"/><ellipse cx="748.3" cy="1640.9" rx="5.7" ry="3.6" transform="rotate(108 748.3 1640.9)"/><ellipse cx="788.6" cy="1536.0" rx="5.2" ry="3.6" transform="rotate(69 788.6 1536.0)"/><ellipse cx="818.9" cy="1658.7" rx="6.7" ry="4.5" transform="rotate(70 818.9 1658.7)"/><ellipse cx="893.3" cy="1687.3" rx="6.4" ry="4.0" transform="rotate(162 893.3 1687.3)"/><ellipse cx="752.2" cy="1547.9" rx="5.1" ry="4.2" transform="rotate(176 752.2 1547.9)"/><ellipse cx="742.4" cy="1653.2" rx="5.2" ry="3.9" transform="rotate(31 742.4 1653.2)"/><ellipse cx="797.9" cy="1666.4" rx="5.4" ry="3.8" transform="rotate(25 797.9 1666.4)"/><ellipse cx="752.6" cy="1631.3" rx="5.2" ry="3.5" transform="rotate(89 752.6 1631.3)"/><ellipse cx="867.6" cy="1631.1" rx="5.5" ry="3.4" transform="rotate(78 867.6 1631.1)"/><ellipse cx="871.5" cy="1667.6" rx="5.5" ry="3.9" transform="rotate(87 871.5 1667.6)"/><ellipse cx="754.7" cy="1574.2" rx="5.0" ry="3.1" transform="rotate(45 754.7 1574.2)"/><ellipse cx="769.5" cy="1563.2" rx="6.9" ry="4.6" transform="rotate(113 769.5 1563.2)"/><ellipse cx="876.9" cy="1565.8" rx="6.3" ry="4.7" transform="rotate(35 876.9 1565.8)"/><ellipse cx="898.8" cy="1473.6" rx="6.5" ry="4.1" transform="rotate(55 898.8 1473.6)"/><ellipse cx="793.9" cy="1553.9" rx="6.3" ry="5.3" transform="rotate(60 793.9 1553.9)"/><ellipse cx="844.0" cy="1654.9" rx="6.2" ry="4.7" transform="rotate(145 844.0 1654.9)"/><ellipse cx="816.2" cy="1511.6" rx="6.2" ry="4.3" transform="rotate(60 816.2 1511.6)"/><ellipse cx="835.1" cy="1572.7" rx="5.8" ry="4.6" transform="rotate(155 835.1 1572.7)"/><ellipse cx="818.6" cy="1581.3" rx="5.7" ry="4.8" transform="rotate(25 818.6 1581.3)"/><ellipse cx="762.6" cy="1538.5" rx="5.2" ry="3.5" transform="rotate(171 762.6 1538.5)"/><ellipse cx="833.6" cy="1503.6" rx="6.5" ry="4.2" transform="rotate(57 833.6 1503.6)"/><ellipse cx="741.9" cy="1562.0" rx="5.8" ry="4.9" transform="rotate(174 741.9 1562.0)"/><ellipse cx="874.0" cy="1546.3" rx="6.9" ry="4.6" transform="rotate(125 874.0 1546.3)"/><ellipse cx="889.8" cy="1496.9" rx="5.8" ry="4.2" transform="rotate(104 889.8 1496.9)"/><ellipse cx="895.5" cy="1651.9" rx="6.2" ry="4.1" transform="rotate(68 895.5 1651.9)"/><ellipse cx="809.0" cy="1646.1" rx="5.2" ry="4.2" transform="rotate(71 809.0 1646.1)"/><ellipse cx="906.6" cy="1676.2" rx="5.0" ry="3.1" transform="rotate(101 906.6 1676.2)"/><ellipse cx="768.6" cy="1549.7" rx="6.0" ry="4.5" transform="rotate(98 768.6 1549.7)"/><ellipse cx="911.0" cy="1624.9" rx="6.0" ry="4.6" transform="rotate(99 911.0 1624.9)"/><ellipse cx="779.9" cy="1607.0" rx="5.9" ry="4.9" transform="rotate(83 779.9 1607.0)"/><ellipse cx="720.3" cy="1618.6" rx="5.7" ry="4.4" transform="rotate(79 720.3 1618.6)"/><ellipse cx="830.9" cy="1619.2" rx="6.1" ry="4.1" transform="rotate(125 830.9 1619.2)"/><ellipse cx="741.6" cy="1588.9" rx="5.3" ry="4.3" transform="rotate(143 741.6 1588.9)"/><ellipse cx="740.7" cy="1613.9" rx="6.0" ry="4.2" transform="rotate(90 740.7 1613.9)"/><ellipse cx="792.1" cy="1584.3" rx="6.3" ry="4.7" transform="rotate(44 792.1 1584.3)"/><ellipse cx="831.5" cy="1558.1" rx="7.0" ry="5.3" transform="rotate(129 831.5 1558.1)"/><ellipse cx="726.3" cy="1584.2" rx="6.0" ry="4.8" transform="rotate(13 726.3 1584.2)"/><ellipse cx="862.9" cy="1535.3" rx="5.7" ry="4.8" transform="rotate(86 862.9 1535.3)"/><ellipse cx="740.8" cy="1599.3" rx="5.2" ry="3.7" transform="rotate(91 740.8 1599.3)"/></g>
<g fill="#c03aa8"><ellipse cx="766" cy="1477" rx="4" ry="3"/><ellipse cx="759" cy="1512" rx="6" ry="3"/><ellipse cx="742" cy="1532" rx="4" ry="4"/><ellipse cx="830" cy="1490" rx="6" ry="4"/><ellipse cx="826" cy="1556" rx="5" ry="3"/><ellipse cx="860" cy="1518" rx="4" ry="5"/><ellipse cx="773" cy="1465" rx="5" ry="3"/></g>
</g>
<rect x="891.6" y="1677" width="14.7" height="5" fill="#fff"/>
</g>
<rect x="568.8" y="1584.9" width="35.2" height="35.8" fill="none" stroke="#fff" stroke-width="3" stroke-dasharray="3.5 3"/>
<line x1="604" y1="1585" x2="682.5" y2="1464.5" stroke="#fff" stroke-width="2.2"/>
<line x1="604" y1="1620.7" x2="682.5" y2="1688" stroke="#fff" stroke-width="2.2"/>
<text x="447.0" y="1666.3" font-size="23" text-anchor="end" fill="#fff" >80 &#956;m</text>
<text x="900.4" y="1666.7" font-size="23" text-anchor="end" fill="#fff" >20 &#956;m</text>
</svg></body></html>
